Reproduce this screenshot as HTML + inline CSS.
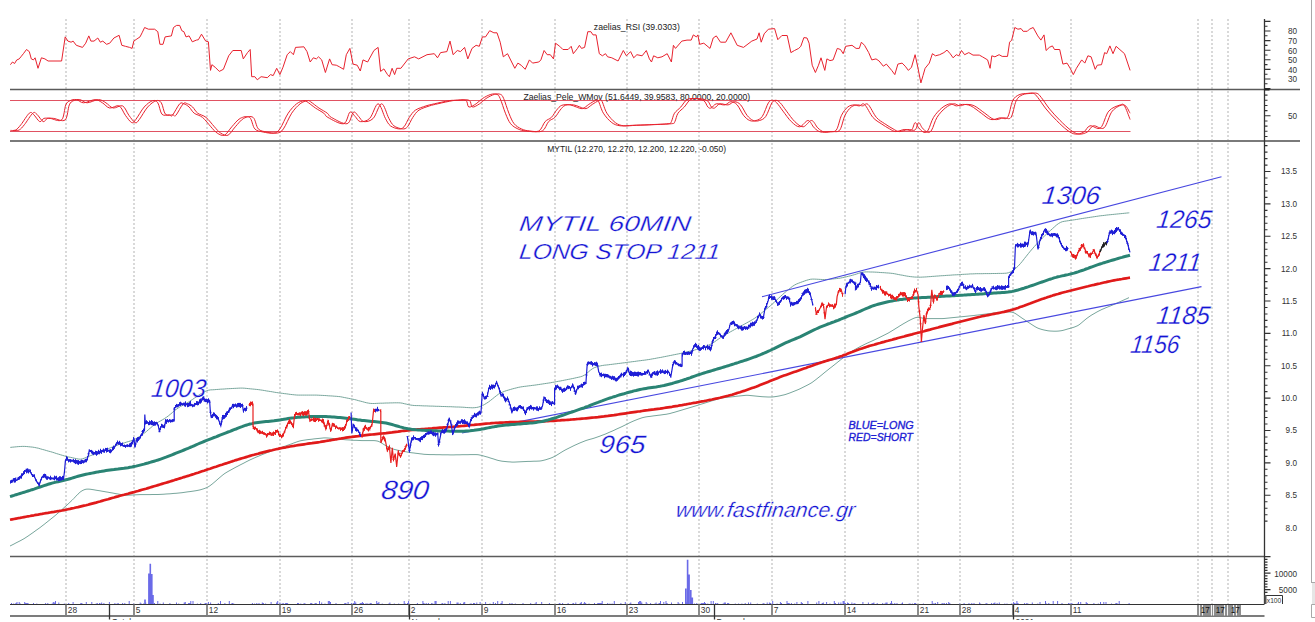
<!DOCTYPE html>
<html><head><meta charset="utf-8"><title>MYTIL chart</title>
<style>html,body{margin:0;padding:0;background:#fff;}svg{display:block;}</style>
</head><body>
<svg width="1315" height="622" viewBox="0 0 1315 622">
<rect width="1315" height="622" fill="#fff"/>
<line x1="66" y1="19" x2="66" y2="604" stroke="#d9d9d9" stroke-width="2" stroke-dasharray="2 2"/>
<line x1="134" y1="19" x2="134" y2="604" stroke="#d9d9d9" stroke-width="2" stroke-dasharray="2 2"/>
<line x1="207" y1="19" x2="207" y2="604" stroke="#d9d9d9" stroke-width="2" stroke-dasharray="2 2"/>
<line x1="280" y1="19" x2="280" y2="604" stroke="#d9d9d9" stroke-width="2" stroke-dasharray="2 2"/>
<line x1="352" y1="19" x2="352" y2="604" stroke="#d9d9d9" stroke-width="2" stroke-dasharray="2 2"/>
<line x1="409" y1="19" x2="409" y2="604" stroke="#d9d9d9" stroke-width="2" stroke-dasharray="2 2"/>
<line x1="482" y1="19" x2="482" y2="604" stroke="#d9d9d9" stroke-width="2" stroke-dasharray="2 2"/>
<line x1="555" y1="19" x2="555" y2="604" stroke="#d9d9d9" stroke-width="2" stroke-dasharray="2 2"/>
<line x1="627" y1="19" x2="627" y2="604" stroke="#d9d9d9" stroke-width="2" stroke-dasharray="2 2"/>
<line x1="699" y1="19" x2="699" y2="604" stroke="#d9d9d9" stroke-width="2" stroke-dasharray="2 2"/>
<line x1="772" y1="19" x2="772" y2="604" stroke="#d9d9d9" stroke-width="2" stroke-dasharray="2 2"/>
<line x1="845" y1="19" x2="845" y2="604" stroke="#d9d9d9" stroke-width="2" stroke-dasharray="2 2"/>
<line x1="918" y1="19" x2="918" y2="604" stroke="#d9d9d9" stroke-width="2" stroke-dasharray="2 2"/>
<line x1="960" y1="19" x2="960" y2="604" stroke="#d9d9d9" stroke-width="2" stroke-dasharray="2 2"/>
<line x1="1013" y1="19" x2="1013" y2="604" stroke="#d9d9d9" stroke-width="2" stroke-dasharray="2 2"/>
<line x1="1071" y1="19" x2="1071" y2="604" stroke="#d9d9d9" stroke-width="2" stroke-dasharray="2 2"/>
<line x1="1198" y1="19" x2="1198" y2="604" stroke="#d9d9d9" stroke-width="2" stroke-dasharray="2 2"/>
<line x1="1212" y1="19" x2="1212" y2="604" stroke="#d9d9d9" stroke-width="2" stroke-dasharray="2 2"/>
<line x1="1228" y1="19" x2="1228" y2="604" stroke="#d9d9d9" stroke-width="2" stroke-dasharray="2 2"/>
<line x1="1311.5" y1="0" x2="1311.5" y2="583" stroke="#a8a8a8" stroke-width="1"/>
<rect x="1312" y="583" width="3" height="21" fill="#e6e6e6"/>
<line x1="1311.5" y1="582.5" x2="1315" y2="582.5" stroke="#a8a8a8"/>
<path d="M1315,604.5 H1311.5 V617.5 H1315" fill="none" stroke="#a8a8a8"/>
<line x1="10" y1="89.5" x2="1300" y2="89.5" stroke="#5a5a5a" stroke-width="1.4"/>
<line x1="10" y1="141" x2="1300" y2="141" stroke="#7a7a7a" stroke-width="2"/>
<line x1="10" y1="556.5" x2="1264.5" y2="556.5" stroke="#5c5c5c" stroke-width="1.5"/>
<line x1="10" y1="604.5" x2="1264.5" y2="604.5" stroke="#333" stroke-width="1.2"/>
<line x1="10" y1="616" x2="1264.5" y2="616" stroke="#7c7c7c" stroke-width="2"/>
<line x1="10" y1="100.5" x2="1130.5" y2="100.5" stroke="#e05262" stroke-width="1"/>
<line x1="10" y1="131.5" x2="1130.5" y2="131.5" stroke="#e05262" stroke-width="1"/>
<line x1="1264.5" y1="19" x2="1264.5" y2="604" stroke="#333" stroke-width="1.3"/>
<path d="M1264.5,21.4h6M1264.5,26.2h3M1264.5,31.0h6M1264.5,35.8h3M1264.5,40.6h6M1264.5,45.4h3M1264.5,50.2h6M1264.5,55.0h3M1264.5,59.8h6M1264.5,64.6h3M1264.5,69.4h6M1264.5,74.2h3M1264.5,79.0h6M1264.5,83.8h3M1264.5,88.6h6M1264.5,95.1h3M1264.5,100.3h3M1264.5,105.5h3M1264.5,110.6h3M1264.5,115.8h6M1264.5,121.0h3M1264.5,126.1h3M1264.5,131.3h3M1264.5,136.5h3M1264.5,145.6h3M1264.5,152.1h3M1264.5,158.6h3M1264.5,165.1h3M1264.5,171.5h6M1264.5,178.0h3M1264.5,184.5h3M1264.5,191.0h3M1264.5,197.4h3M1264.5,203.9h6M1264.5,210.4h3M1264.5,216.8h3M1264.5,223.3h3M1264.5,229.8h3M1264.5,236.3h6M1264.5,242.7h3M1264.5,249.2h3M1264.5,255.7h3M1264.5,262.2h3M1264.5,268.6h6M1264.5,275.1h3M1264.5,281.6h3M1264.5,288.1h3M1264.5,294.5h3M1264.5,301.0h6M1264.5,307.5h3M1264.5,314.0h3M1264.5,320.4h3M1264.5,326.9h3M1264.5,333.4h6M1264.5,339.9h3M1264.5,346.3h3M1264.5,352.8h3M1264.5,359.3h3M1264.5,365.8h6M1264.5,372.2h3M1264.5,378.7h3M1264.5,385.2h3M1264.5,391.6h3M1264.5,398.1h6M1264.5,404.6h3M1264.5,411.1h3M1264.5,417.5h3M1264.5,424.0h3M1264.5,430.5h6M1264.5,437.0h3M1264.5,443.4h3M1264.5,449.9h3M1264.5,456.4h3M1264.5,462.9h6M1264.5,469.3h3M1264.5,475.8h3M1264.5,482.3h3M1264.5,488.8h3M1264.5,495.2h6M1264.5,501.7h3M1264.5,508.2h3M1264.5,514.7h3M1264.5,521.1h3M1264.5,556.6h6M1264.5,559.4h3M1264.5,562.1h3M1264.5,564.9h3M1264.5,567.6h3M1264.5,570.4h3M1264.5,573.1h6M1264.5,575.9h3M1264.5,578.6h3M1264.5,581.4h3M1264.5,584.1h3M1264.5,586.9h3M1264.5,589.6h6M1264.5,592.4h3" stroke="#333" stroke-width="1.1" fill="none"/>
<rect x="1264.5" y="88.5" width="5" height="2" fill="#222"/>
<text x="1297" y="34.3" font-family="Liberation Sans, Arial, sans-serif" font-size="8.2" fill="#333" text-anchor="end">80</text>
<text x="1297" y="43.9" font-family="Liberation Sans, Arial, sans-serif" font-size="8.2" fill="#333" text-anchor="end">70</text>
<text x="1297" y="53.5" font-family="Liberation Sans, Arial, sans-serif" font-size="8.2" fill="#333" text-anchor="end">60</text>
<text x="1297" y="63.1" font-family="Liberation Sans, Arial, sans-serif" font-size="8.2" fill="#333" text-anchor="end">50</text>
<text x="1297" y="72.7" font-family="Liberation Sans, Arial, sans-serif" font-size="8.2" fill="#333" text-anchor="end">40</text>
<text x="1297" y="82.3" font-family="Liberation Sans, Arial, sans-serif" font-size="8.2" fill="#333" text-anchor="end">30</text>
<text x="1297" y="119.1" font-family="Liberation Sans, Arial, sans-serif" font-size="8.2" fill="#333" text-anchor="end">50</text>
<text x="1297" y="174.4" font-family="Liberation Sans, Arial, sans-serif" font-size="8.2" fill="#333" text-anchor="end">13.5</text>
<text x="1297" y="206.8" font-family="Liberation Sans, Arial, sans-serif" font-size="8.2" fill="#333" text-anchor="end">13.0</text>
<text x="1297" y="239.2" font-family="Liberation Sans, Arial, sans-serif" font-size="8.2" fill="#333" text-anchor="end">12.5</text>
<text x="1297" y="271.5" font-family="Liberation Sans, Arial, sans-serif" font-size="8.2" fill="#333" text-anchor="end">12.0</text>
<text x="1297" y="303.9" font-family="Liberation Sans, Arial, sans-serif" font-size="8.2" fill="#333" text-anchor="end">11.5</text>
<text x="1297" y="336.3" font-family="Liberation Sans, Arial, sans-serif" font-size="8.2" fill="#333" text-anchor="end">11.0</text>
<text x="1297" y="368.6" font-family="Liberation Sans, Arial, sans-serif" font-size="8.2" fill="#333" text-anchor="end">10.5</text>
<text x="1297" y="401.0" font-family="Liberation Sans, Arial, sans-serif" font-size="8.2" fill="#333" text-anchor="end">10.0</text>
<text x="1297" y="433.4" font-family="Liberation Sans, Arial, sans-serif" font-size="8.2" fill="#333" text-anchor="end">9.5</text>
<text x="1297" y="465.8" font-family="Liberation Sans, Arial, sans-serif" font-size="8.2" fill="#333" text-anchor="end">9.0</text>
<text x="1297" y="498.1" font-family="Liberation Sans, Arial, sans-serif" font-size="8.2" fill="#333" text-anchor="end">8.5</text>
<text x="1297" y="530.5" font-family="Liberation Sans, Arial, sans-serif" font-size="8.2" fill="#333" text-anchor="end">8.0</text>
<text x="1297" y="576.5" font-family="Liberation Sans, Arial, sans-serif" font-size="8.2" fill="#333" text-anchor="end">10000</text>
<text x="1297" y="592.7" font-family="Liberation Sans, Arial, sans-serif" font-size="8.2" fill="#333" text-anchor="end">5000</text>
<path d="M1264.5,595.5 H1282.5 V604" fill="none" stroke="#333" stroke-width="1"/>
<rect x="1264.5" y="595" width="2" height="9" fill="#555"/>
<text x="1266.8" y="602.6" font-family="Liberation Sans, Arial, sans-serif" font-size="7.2" fill="#333" textLength="14.5" lengthAdjust="spacingAndGlyphs">x100</text>
<text x="593.8" y="30.1" font-family="Liberation Sans, Arial, sans-serif" font-size="8.6" fill="#222" textLength="86" lengthAdjust="spacingAndGlyphs">zaelias_RSI (39.0303)</text>
<text x="523.4" y="100.2" font-family="Liberation Sans, Arial, sans-serif" font-size="8.6" fill="#222" textLength="226.8" lengthAdjust="spacingAndGlyphs">Zaelias_Pele_WMov (51.6449, 39.9583, 80.0000, 20.0000)</text>
<text x="547.2" y="152" font-family="Liberation Sans, Arial, sans-serif" font-size="8.8" fill="#222" textLength="178.9" lengthAdjust="spacingAndGlyphs">MYTIL (12.270, 12.270, 12.200, 12.220, -0.050)</text>
<polyline points="10.4,64.7 12.5,62.0 14.6,63.5 16.7,60.0 19.2,58.9 20.9,56.8 23.4,53.7 26.5,49.5 29.3,51.6 31.3,58.9 33.4,59.9 35.1,57.8 38.0,68.3 41.4,57.8 44.9,58.9 48.1,61.0 61.6,61.0 65.2,36.9 67.9,41.1 71.1,42.2 73.1,41.1 76.3,45.3 82.5,47.4 85.7,43.2 88.8,35.9 90.9,41.1 94.0,41.1 97.8,38.0 100.3,42.2 102.8,41.1 106.6,44.3 109.7,43.2 113.9,38.0 119.1,35.3 121.8,45.3 125.4,46.3 129.6,47.4 132.1,48.4 133.8,41.1 136.9,39.0 140.0,36.9 142.1,32.8 144.6,27.5 148.4,29.2 154.6,29.2 157.8,31.7 159.9,44.3 163.0,44.3 165.1,36.9 171.4,35.9 173.5,27.5 176.6,25.4 179.7,25.4 181.8,30.7 183.9,31.7 186.0,36.9 189.1,35.9 192.3,41.8 196.4,40.1 198.4,39.7 201.5,34.2 205.7,41.1 208.4,41.8 210.5,70.4 211.9,64.7 215.1,67.2 219.3,71.4 223.4,69.3 228.7,55.8 232.8,50.5 241.2,50.5 243.3,58.9 247.5,52.6 250.2,49.5 251.7,76.7 254.8,76.7 257.3,79.8 261.1,76.7 267.3,77.7 270.5,74.6 273.2,75.6 276.7,68.3 279.9,74.6 283.0,67.2 287.2,54.7 290.3,51.6 293.4,54.7 295.5,47.4 303.9,46.8 307.0,51.6 310.2,62.0 313.3,57.8 316.4,58.9 318.5,56.8 321.7,59.9 325.4,72.5 329.6,58.9 332.1,64.7 336.3,65.2 339.4,66.8 343.6,69.3 346.3,54.7 349.9,48.4 353.0,64.1 357.2,65.2 360.3,71.0 363.0,59.9 367.6,62.0 373.9,50.5 378.1,47.4 380.6,71.4 383.9,68.9 387.5,74.6 389.4,76.7 392.1,68.3 394.6,74.6 396.7,68.3 400.9,68.3 408.2,58.9 414.5,56.8 418.7,58.9 427.0,54.7 434.3,53.7 437.5,57.8 440.6,52.6 446.9,51.6 450.0,41.1 453.1,54.7 457.3,50.5 460.5,51.6 464.6,47.4 467.8,58.9 472.0,48.4 476.1,45.3 479.3,46.3 482.4,36.9 485.5,36.9 489.7,30.7 493.9,32.8 497.0,32.8 500.2,42.2 503.3,56.8 507.5,53.7 514.8,68.3 517.9,63.1 521.1,65.2 525.2,69.3 529.4,59.9 532.6,63.1 538.8,62.0 540.9,59.9 544.1,50.5 547.2,54.7 550.3,54.7 553.5,58.9 555.5,43.2 559.7,46.3 562.9,49.5 568.1,49.5 571.2,46.3 573.3,53.7 577.5,48.4 579.4,45.3 581.5,48.4 584.6,47.4 587.8,31.7 590.9,31.7 593.0,34.9 596.1,34.9 599.3,53.7 602.4,55.8 605.5,53.7 607.6,56.8 611.8,57.8 618.1,61.0 623.3,50.5 626.4,55.8 630.6,51.6 633.7,57.8 636.9,54.7 642.1,55.8 646.3,50.5 649.4,58.9 651.5,62.0 653.6,55.8 657.8,57.8 662.0,56.8 667.2,53.7 671.4,62.0 673.4,45.3 675.5,48.4 681.8,41.1 687.0,40.1 691.2,40.1 693.3,34.9 696.4,36.9 697.9,34.9 699.6,44.3 703.8,43.2 710.0,48.4 713.2,38.0 716.3,35.9 720.5,42.2 725.7,42.2 730.9,32.8 737.2,45.3 743.5,47.4 751.8,41.1 757.0,39.0 759.1,32.8 761.2,42.2 764.2,33.8 768.4,29.2 774.6,28.6 777.8,39.7 781.9,35.5 787.2,35.5 790.9,52.6 794.5,50.5 798.7,48.4 800.8,46.3 803.9,37.6 807.0,38.0 809.1,43.2 812.2,65.2 815.4,72.5 818.5,65.2 821.0,57.8 824.8,70.4 826.9,58.9 830.0,60.6 833.1,59.9 837.3,48.4 840.5,49.5 843.2,53.7 845.7,46.3 852.0,45.3 856.1,48.4 859.3,48.4 861.4,42.2 864.5,45.3 868.7,52.6 871.8,59.9 876.0,58.9 879.1,61.0 883.3,66.2 886.4,64.1 891.7,70.4 894.8,74.6 897.9,64.1 902.1,63.1 905.2,66.2 908.4,70.4 911.5,67.2 915.1,54.7 917.8,67.2 920.9,82.9 923.0,75.6 925.1,68.3 929.3,63.1 932.4,53.7 935.5,55.8 939.7,54.7 943.9,52.6 947.0,50.1 950.2,53.7 953.1,57.8 956.3,54.7 958.8,55.8 961.5,50.5 964.6,54.7 968.8,52.6 973.0,55.1 979.3,55.1 982.4,56.8 987.6,59.9 990.1,68.3 991.8,55.8 994.9,56.8 999.1,54.7 1002.2,56.4 1007.5,56.4 1009.6,42.2 1011.7,40.1 1014.8,27.5 1017.9,29.2 1021.1,28.6 1023.1,31.3 1027.3,31.3 1029.4,29.2 1033.2,27.5 1037.8,35.9 1040.9,40.1 1044.0,34.9 1046.1,50.5 1049.3,47.4 1052.4,45.9 1054.5,49.5 1059.7,49.5 1062.9,64.1 1067.0,63.1 1070.2,68.3 1073.3,74.6 1076.4,68.3 1081.7,59.9 1084.8,63.1 1087.9,55.8 1091.1,56.8 1095.2,69.3 1097.3,65.2 1101.5,64.7 1104.6,52.6 1106.7,53.7 1109.9,45.9 1113.0,53.7 1116.1,46.3 1124.5,53.7 1130.1,70.4" fill="none" stroke="#e8222e" stroke-width="1" stroke-linejoin="round"/>
<path d="M10.4,130.4 C11.3,130.3 13.9,130.9 15.7,130.0 C17.4,129.1 18.6,127.5 20.9,124.7 C23.2,121.9 27.2,114.9 29.3,113.2 C31.4,111.5 31.7,112.9 33.4,114.3 C35.1,115.7 38.0,120.9 39.7,121.6 C41.5,122.3 42.1,118.9 43.9,118.4 C45.6,117.9 47.2,118.2 50.2,118.4 C53.2,118.7 59.0,122.2 61.6,119.9 C64.2,117.7 64.4,108.1 65.8,104.9 C67.2,101.7 68.2,101.6 70.0,100.7 C71.8,99.8 74.0,99.2 76.3,99.6 C78.6,99.9 80.5,102.8 83.6,102.8 C86.7,102.8 92.0,99.6 95.1,99.6 C98.2,99.6 100.0,101.4 102.4,102.8 C104.8,104.2 106.9,107.5 109.7,108.0 C112.5,108.5 116.5,104.7 119.1,105.9 C121.7,107.1 123.3,112.5 125.4,115.3 C127.5,118.1 130.0,121.9 131.7,122.6 C133.4,123.3 133.7,122.1 135.8,119.5 C137.9,116.9 141.4,110.1 144.2,107.0 C147.0,103.9 150.3,101.4 152.6,100.7 C154.9,100.0 156.2,100.5 157.8,102.8 C159.4,105.1 160.1,112.3 162.0,114.3 C163.9,116.3 167.6,114.7 169.3,114.9 C171.0,115.1 170.7,117.2 172.4,115.3 C174.1,113.4 177.8,105.7 179.7,103.8 C181.6,101.9 182.3,103.3 183.9,103.8 C185.5,104.3 187.4,105.4 189.1,107.0 C190.8,108.6 192.0,111.5 194.2,113.2 C196.4,114.9 199.7,115.1 202.5,117.4 C205.3,119.7 208.5,124.2 210.9,126.8 C213.3,129.4 214.9,131.7 217.2,133.1 C219.5,134.5 222.1,136.2 224.5,135.2 C226.9,134.1 229.2,129.6 231.8,126.8 C234.4,124.0 237.2,120.0 240.2,118.4 C243.2,116.8 247.2,115.7 249.6,117.4 C252.0,119.2 252.6,126.5 254.8,128.9 C257.1,131.3 260.0,131.3 263.1,132.0 C266.2,132.7 270.8,133.6 273.6,133.1 C276.4,132.6 277.5,132.2 279.9,128.9 C282.3,125.6 285.4,117.4 288.2,113.2 C291.0,109.0 294.0,105.9 296.6,103.8 C299.2,101.7 302.2,101.0 303.9,100.7 C305.6,100.4 305.1,100.5 307.0,101.7 C308.9,102.9 312.6,106.1 315.4,108.0 C318.2,109.9 321.7,111.6 323.8,113.2 C325.9,114.8 324.6,115.7 327.9,117.4 C331.2,119.2 339.9,124.6 343.6,123.7 C347.3,122.8 348.0,113.4 349.9,112.2 C351.8,111.0 353.4,114.8 355.1,116.4 C356.8,118.0 357.9,121.3 360.3,121.6 C362.7,121.9 366.7,121.4 369.7,118.4 C372.7,115.4 375.5,103.8 378.1,103.8 C380.7,103.8 383.3,114.7 385.4,118.4 C387.4,122.1 388.2,124.0 390.4,125.8 C392.6,127.5 396.5,128.7 398.8,128.9 C401.1,129.1 402.2,128.7 404.0,126.8 C405.8,124.9 407.4,120.2 409.3,117.4 C411.2,114.6 412.7,112.0 415.5,110.1 C418.3,108.2 422.9,107.0 426.0,105.9 C429.1,104.9 430.5,104.7 434.3,103.8 C438.1,102.9 445.5,101.3 449.0,100.7 C452.5,100.1 452.4,100.4 455.2,100.3 C458.0,100.2 463.4,99.2 465.7,100.3 C468.0,101.4 467.1,106.4 468.8,107.0 C470.5,107.6 473.8,105.2 476.1,103.8 C478.4,102.4 479.9,100.2 482.4,98.6 C484.8,97.0 488.4,95.1 490.8,94.4 C493.2,93.7 495.4,93.7 497.0,94.4 C498.6,95.1 498.8,95.5 500.2,98.6 C501.6,101.7 503.7,109.0 505.4,113.2 C507.1,117.4 508.5,121.1 510.6,123.7 C512.7,126.3 515.3,127.7 517.9,128.9 C520.5,130.1 522.8,130.7 526.3,131.0 C529.8,131.3 535.7,132.6 538.8,131.0 C541.9,129.4 543.0,123.9 545.1,121.6 C547.2,119.3 549.5,119.3 551.4,117.4 C553.3,115.5 554.9,112.1 556.6,110.1 C558.3,108.1 559.5,106.2 561.8,105.3 C564.1,104.4 567.8,104.6 570.2,104.9 C572.6,105.2 574.2,106.4 576.3,107.0 C578.3,107.6 580.4,109.0 582.5,108.6 C584.6,108.2 586.7,105.7 588.8,104.4 C590.9,103.1 593.5,101.3 595.1,100.7 C596.7,100.1 596.8,98.6 598.2,100.7 C599.6,102.8 601.1,109.6 603.4,113.2 C605.7,116.8 609.0,120.5 611.8,122.6 C614.6,124.7 616.7,125.3 620.2,125.8 C623.7,126.2 627.8,125.5 632.7,125.3 C637.6,125.1 643.5,125.0 649.4,124.7 C655.3,124.4 664.5,124.2 668.2,123.7 C671.9,123.2 670.4,123.3 671.4,121.6 C672.4,119.8 672.9,115.6 674.5,113.2 C676.1,110.8 678.7,109.3 680.8,107.0 C682.9,104.7 684.6,101.0 687.0,99.6 C689.4,98.2 692.6,98.4 695.4,98.6 C698.2,98.8 701.7,99.3 703.8,100.7 C705.9,102.1 706.7,105.8 707.9,107.0 C709.1,108.2 709.7,108.5 711.1,108.0 C712.5,107.5 714.0,104.3 716.3,103.8 C718.5,103.3 722.2,105.2 724.6,104.9 C727.0,104.6 728.8,101.7 730.9,101.7 C733.0,101.7 735.1,102.6 737.2,104.9 C739.3,107.2 741.4,112.7 743.5,115.3 C745.6,117.9 747.6,119.6 749.7,120.5 C751.8,121.4 753.9,121.2 756.0,120.5 C758.1,119.8 760.2,119.4 762.3,116.4 C764.4,113.5 766.7,105.5 768.4,102.8 C770.1,100.1 771.1,100.3 772.5,100.3 C773.9,100.3 775.0,101.0 776.7,102.8 C778.5,104.6 780.6,108.0 783.0,111.1 C785.4,114.2 788.5,119.0 791.3,121.6 C794.1,124.2 796.9,127.0 799.7,126.8 C802.5,126.6 805.7,120.3 808.1,120.5 C810.5,120.7 812.2,126.0 814.3,127.9 C816.4,129.8 818.1,131.4 820.6,132.0 C823.1,132.6 826.4,131.9 829.0,131.6 C831.6,131.3 834.2,132.7 836.3,130.0 C838.4,127.3 839.6,119.1 841.5,115.3 C843.4,111.5 845.7,108.7 847.8,107.0 C849.9,105.3 852.1,105.1 854.0,104.9 C855.9,104.7 857.5,106.0 859.3,105.9 C861.0,105.8 862.2,102.5 864.5,104.4 C866.8,106.3 870.1,114.2 872.9,117.4 C875.7,120.6 878.4,121.8 881.2,123.7 C884.0,125.6 887.2,127.6 889.6,128.9 C892.0,130.2 893.4,131.5 895.8,131.6 C898.2,131.7 901.6,129.8 904.2,129.5 C906.8,129.2 909.7,131.2 911.5,130.0 C913.3,128.8 913.9,122.9 915.1,122.6 C916.3,122.2 917.3,126.3 918.8,127.9 C920.3,129.5 922.5,132.1 924.1,132.4 C925.7,132.8 926.6,132.5 928.2,130.0 C929.8,127.5 931.2,121.1 933.5,117.4 C935.8,113.7 939.0,110.3 941.8,108.0 C944.6,105.7 947.8,104.1 950.2,103.8 C952.6,103.5 954.2,105.8 956.3,105.9 C958.3,106.0 960.1,104.4 962.5,104.4 C964.9,104.4 967.8,104.4 970.9,105.9 C974.0,107.4 978.0,110.9 981.3,113.2 C984.6,115.5 987.6,118.7 990.8,119.5 C993.9,120.3 997.4,118.1 1000.2,117.8 C1003.0,117.5 1005.4,120.2 1007.5,117.4 C1009.6,114.6 1010.8,104.5 1012.7,100.7 C1014.6,96.9 1016.6,96.0 1019.0,94.8 C1021.4,93.6 1024.9,93.6 1027.3,93.4 C1029.7,93.2 1031.8,92.7 1033.6,93.4 C1035.3,94.1 1035.7,94.9 1037.8,97.5 C1039.9,100.1 1043.0,105.2 1046.1,109.0 C1049.2,112.8 1053.1,117.0 1056.6,120.5 C1060.1,124.0 1063.9,127.7 1067.0,130.0 C1070.1,132.3 1072.6,133.8 1075.4,134.1 C1078.2,134.4 1081.4,133.4 1083.8,132.0 C1086.2,130.6 1087.2,126.5 1090.0,125.8 C1092.8,125.1 1097.4,130.3 1100.5,127.9 C1103.6,125.5 1105.5,114.9 1108.8,111.1 C1112.1,107.3 1117.7,105.8 1120.3,104.9 C1122.9,104.0 1122.9,103.5 1124.5,105.9 C1126.1,108.3 1129.2,117.2 1130.1,119.5" fill="none" stroke="#e8222e" stroke-width="1"/>
<path d="M13.9,130.4 C14.8,130.3 17.4,130.9 19.2,130.0 C20.9,129.1 22.1,127.5 24.4,124.7 C26.7,121.9 30.7,114.9 32.8,113.2 C34.9,111.5 35.2,112.9 36.9,114.3 C38.6,115.7 41.5,120.9 43.2,121.6 C45.0,122.3 45.6,118.9 47.4,118.4 C49.1,117.9 50.8,118.2 53.7,118.4 C56.7,118.7 62.5,122.2 65.1,119.9 C67.7,117.7 67.9,108.1 69.3,104.9 C70.7,101.7 71.8,101.6 73.5,100.7 C75.2,99.8 77.5,99.2 79.8,99.6 C82.1,99.9 84.0,102.8 87.1,102.8 C90.2,102.8 95.5,99.6 98.6,99.6 C101.7,99.6 103.5,101.4 105.9,102.8 C108.3,104.2 110.4,107.5 113.2,108.0 C116.0,108.5 120.0,104.7 122.6,105.9 C125.2,107.1 126.8,112.5 128.9,115.3 C131.0,118.1 133.5,121.9 135.2,122.6 C136.9,123.3 137.2,122.1 139.3,119.5 C141.4,116.9 144.9,110.1 147.7,107.0 C150.5,103.9 153.8,101.4 156.1,100.7 C158.4,100.0 159.7,100.5 161.3,102.8 C162.9,105.1 163.6,112.3 165.5,114.3 C167.4,116.3 171.1,114.7 172.8,114.9 C174.5,115.1 174.2,117.2 175.9,115.3 C177.6,113.4 181.3,105.7 183.2,103.8 C185.1,101.9 185.8,103.3 187.4,103.8 C189.0,104.3 190.9,105.4 192.6,107.0 C194.3,108.6 195.5,111.5 197.7,113.2 C199.9,114.9 203.2,115.1 206.0,117.4 C208.8,119.7 212.0,124.2 214.4,126.8 C216.8,129.4 218.4,131.7 220.7,133.1 C223.0,134.5 225.6,136.2 228.0,135.2 C230.4,134.1 232.7,129.6 235.3,126.8 C237.9,124.0 240.7,120.0 243.7,118.4 C246.7,116.8 250.7,115.7 253.1,117.4 C255.5,119.2 256.1,126.5 258.3,128.9 C260.6,131.3 263.5,131.3 266.6,132.0 C269.7,132.7 274.3,133.6 277.1,133.1 C279.9,132.6 281.0,132.2 283.4,128.9 C285.8,125.6 288.9,117.4 291.7,113.2 C294.5,109.0 297.5,105.9 300.1,103.8 C302.7,101.7 305.7,101.0 307.4,100.7 C309.1,100.4 308.6,100.5 310.5,101.7 C312.4,102.9 316.1,106.1 318.9,108.0 C321.7,109.9 325.2,111.6 327.3,113.2 C329.4,114.8 328.1,115.7 331.4,117.4 C334.7,119.2 343.4,124.6 347.1,123.7 C350.8,122.8 351.5,113.4 353.4,112.2 C355.3,111.0 356.9,114.8 358.6,116.4 C360.3,118.0 361.4,121.3 363.8,121.6 C366.2,121.9 370.2,121.4 373.2,118.4 C376.2,115.4 379.0,103.8 381.6,103.8 C384.2,103.8 386.8,114.7 388.9,118.4 C390.9,122.1 391.7,124.0 393.9,125.8 C396.1,127.5 400.0,128.7 402.3,128.9 C404.6,129.1 405.8,128.7 407.5,126.8 C409.2,124.9 410.9,120.2 412.8,117.4 C414.7,114.6 416.2,112.0 419.0,110.1 C421.8,108.2 426.4,107.0 429.5,105.9 C432.6,104.9 434.0,104.7 437.8,103.8 C441.6,102.9 449.0,101.3 452.5,100.7 C456.0,100.1 455.9,100.4 458.7,100.3 C461.5,100.2 466.9,99.2 469.2,100.3 C471.5,101.4 470.6,106.4 472.3,107.0 C474.0,107.6 477.3,105.2 479.6,103.8 C481.9,102.4 483.4,100.2 485.9,98.6 C488.3,97.0 491.9,95.1 494.3,94.4 C496.7,93.7 498.9,93.7 500.5,94.4 C502.1,95.1 502.3,95.5 503.7,98.6 C505.1,101.7 507.2,109.0 508.9,113.2 C510.6,117.4 512.0,121.1 514.1,123.7 C516.2,126.3 518.8,127.7 521.4,128.9 C524.0,130.1 526.3,130.7 529.8,131.0 C533.3,131.3 539.2,132.6 542.3,131.0 C545.4,129.4 546.5,123.9 548.6,121.6 C550.7,119.3 553.0,119.3 554.9,117.4 C556.8,115.5 558.4,112.1 560.1,110.1 C561.8,108.1 563.0,106.2 565.3,105.3 C567.6,104.4 571.3,104.6 573.7,104.9 C576.1,105.2 577.8,106.4 579.8,107.0 C581.8,107.6 583.9,109.0 586.0,108.6 C588.1,108.2 590.2,105.7 592.3,104.4 C594.4,103.1 597.0,101.3 598.6,100.7 C600.2,100.1 600.3,98.6 601.7,100.7 C603.1,102.8 604.6,109.6 606.9,113.2 C609.2,116.8 612.5,120.5 615.3,122.6 C618.1,124.7 620.2,125.3 623.7,125.8 C627.2,126.2 631.3,125.5 636.2,125.3 C641.1,125.1 647.0,125.0 652.9,124.7 C658.8,124.4 668.0,124.2 671.7,123.7 C675.4,123.2 673.9,123.3 674.9,121.6 C675.9,119.8 676.4,115.6 678.0,113.2 C679.6,110.8 682.2,109.3 684.3,107.0 C686.4,104.7 688.1,101.0 690.5,99.6 C692.9,98.2 696.1,98.4 698.9,98.6 C701.7,98.8 705.2,99.3 707.3,100.7 C709.4,102.1 710.2,105.8 711.4,107.0 C712.6,108.2 713.2,108.5 714.6,108.0 C716.0,107.5 717.5,104.3 719.8,103.8 C722.0,103.3 725.7,105.2 728.1,104.9 C730.5,104.6 732.3,101.7 734.4,101.7 C736.5,101.7 738.6,102.6 740.7,104.9 C742.8,107.2 744.9,112.7 747.0,115.3 C749.1,117.9 751.1,119.6 753.2,120.5 C755.3,121.4 757.4,121.2 759.5,120.5 C761.6,119.8 763.7,119.4 765.8,116.4 C767.9,113.5 770.2,105.5 771.9,102.8 C773.6,100.1 774.6,100.3 776.0,100.3 C777.4,100.3 778.5,101.0 780.2,102.8 C782.0,104.6 784.1,108.0 786.5,111.1 C788.9,114.2 792.0,119.0 794.8,121.6 C797.6,124.2 800.4,127.0 803.2,126.8 C806.0,126.6 809.2,120.3 811.6,120.5 C814.0,120.7 815.7,126.0 817.8,127.9 C819.9,129.8 821.6,131.4 824.1,132.0 C826.6,132.6 829.9,131.9 832.5,131.6 C835.1,131.3 837.7,132.7 839.8,130.0 C841.9,127.3 843.1,119.1 845.0,115.3 C846.9,111.5 849.2,108.7 851.3,107.0 C853.4,105.3 855.6,105.1 857.5,104.9 C859.4,104.7 861.0,106.0 862.8,105.9 C864.5,105.8 865.7,102.5 868.0,104.4 C870.3,106.3 873.6,114.2 876.4,117.4 C879.2,120.6 881.9,121.8 884.7,123.7 C887.5,125.6 890.7,127.6 893.1,128.9 C895.5,130.2 896.9,131.5 899.3,131.6 C901.7,131.7 905.1,129.8 907.7,129.5 C910.3,129.2 913.2,131.2 915.0,130.0 C916.8,128.8 917.4,122.9 918.6,122.6 C919.8,122.2 920.8,126.3 922.3,127.9 C923.8,129.5 926.0,132.1 927.6,132.4 C929.2,132.8 930.1,132.5 931.7,130.0 C933.3,127.5 934.7,121.1 937.0,117.4 C939.3,113.7 942.5,110.3 945.3,108.0 C948.1,105.7 951.3,104.1 953.7,103.8 C956.1,103.5 957.8,105.8 959.8,105.9 C961.8,106.0 963.6,104.4 966.0,104.4 C968.4,104.4 971.3,104.4 974.4,105.9 C977.5,107.4 981.5,110.9 984.8,113.2 C988.1,115.5 991.1,118.7 994.3,119.5 C997.4,120.3 1000.9,118.1 1003.7,117.8 C1006.5,117.5 1008.9,120.2 1011.0,117.4 C1013.1,114.6 1014.3,104.5 1016.2,100.7 C1018.1,96.9 1020.1,96.0 1022.5,94.8 C1024.9,93.6 1028.4,93.6 1030.8,93.4 C1033.2,93.2 1035.3,92.7 1037.1,93.4 C1038.8,94.1 1039.2,94.9 1041.3,97.5 C1043.4,100.1 1046.5,105.2 1049.6,109.0 C1052.7,112.8 1056.6,117.0 1060.1,120.5 C1063.6,124.0 1067.4,127.7 1070.5,130.0 C1073.6,132.3 1076.1,133.8 1078.9,134.1 C1081.7,134.4 1084.9,133.4 1087.3,132.0 C1089.7,130.6 1090.7,126.5 1093.5,125.8 C1096.3,125.1 1100.9,130.3 1104.0,127.9 C1107.1,125.5 1109.0,114.9 1112.3,111.1 C1115.6,107.3 1120.8,104.6 1123.8,104.9 C1126.8,105.2 1129.0,111.8 1130.1,113.2" fill="none" stroke="#e8222e" stroke-width="1"/>
<polyline points="10.3,447.4 12.3,447.2 14.3,447.0 16.3,446.8 18.3,446.6 20.3,446.5 22.3,446.4 24.3,446.4 26.3,446.5 28.3,446.7 30.3,446.9 32.3,447.1 34.3,447.4 36.3,447.8 38.3,448.2 40.3,448.8 42.3,449.4 44.3,449.9 46.3,450.5 48.3,451.1 50.3,451.6 52.3,452.2 54.3,452.8 56.3,453.5 58.3,454.1 60.3,454.7 62.3,455.3 64.3,455.9 66.3,456.4 68.3,456.9 70.3,457.3 72.3,457.7 74.3,458.2 76.3,458.6 78.3,459.0 80.3,459.2 82.3,458.9 84.3,458.2 86.3,457.4 88.3,456.5 90.3,455.7 92.3,455.0 94.3,454.3 96.3,453.7 98.3,453.0 100.3,452.2 102.3,451.3 104.3,450.5 106.3,449.6 108.3,448.7 110.3,447.8 112.3,447.0 114.3,446.2 116.3,445.5 118.3,444.8 120.3,444.2 122.3,443.5 124.3,442.9 126.3,442.2 128.3,441.6 130.3,441.0 132.3,440.4 134.3,439.6 136.3,438.5 138.3,437.3 140.3,436.0 142.3,434.6 144.3,433.1 146.3,431.6 148.3,429.8 150.3,428.1 152.3,426.4 154.3,424.8 156.3,423.3 158.3,422.1 160.3,421.0 162.3,419.9 164.3,418.7 166.3,417.4 168.3,415.9 170.3,414.3 172.3,412.6 174.3,410.9 176.3,409.3 178.3,407.9 180.3,406.6 182.3,405.5 184.3,404.4 186.3,403.3 188.3,402.2 190.3,400.9 192.3,399.6 194.3,398.2 196.3,396.9 198.3,395.5 200.3,394.2 202.3,393.0 204.3,391.8 206.3,390.9 208.3,390.3 210.3,389.9 212.3,389.8 214.3,389.7 216.3,389.5 218.3,389.4 220.3,389.2 222.3,389.1 224.3,389.0 226.3,388.8 228.3,388.7 230.3,388.6 232.3,388.5 234.3,388.4 236.3,388.3 238.3,388.2 240.3,388.1 242.3,388.1 244.3,388.2 246.3,388.4 248.3,388.6 250.3,388.8 252.3,389.0 254.3,389.2 256.3,389.4 258.3,389.6 260.3,389.9 262.3,390.2 264.3,390.5 266.3,390.9 268.3,391.2 270.3,391.5 272.3,391.8 274.3,392.2 276.3,392.5 278.3,392.8 280.3,393.1 282.3,393.3 284.3,393.6 286.3,393.8 288.3,394.1 290.3,394.4 292.3,394.6 294.3,394.8 296.3,395.0 298.3,395.1 300.3,395.1 302.3,395.1 304.3,395.1 306.3,395.1 308.3,395.1 310.3,395.1 312.3,395.1 314.3,395.1 316.3,395.1 318.3,395.2 320.3,395.3 322.3,395.4 324.3,395.5 326.3,395.6 328.3,395.8 330.3,395.9 332.3,396.0 334.3,396.2 336.3,396.3 338.3,396.5 340.3,396.7 342.3,397.1 344.3,397.5 346.3,397.9 348.3,398.3 350.3,398.7 352.3,399.1 354.3,399.5 356.3,400.0 358.3,400.6 360.3,401.1 362.3,401.6 364.3,402.2 366.3,402.7 368.3,403.1 370.3,403.4 372.3,403.5 374.3,403.5 376.3,403.4 378.3,403.3 380.3,403.2 382.3,403.2 384.3,403.1 386.3,403.0 388.3,403.0 390.3,402.9 392.3,402.9 394.3,402.8 396.3,402.8 398.3,402.8 400.3,402.9 402.3,403.2 404.3,403.7 406.3,404.1 408.3,404.6 410.3,405.0 412.3,405.3 414.3,405.5 416.3,405.6 418.3,405.6 420.3,405.7 422.3,405.8 424.3,405.9 426.3,405.9 428.3,406.0 430.3,406.1 432.3,406.1 434.3,406.2 436.3,406.3 438.3,406.3 440.3,406.4 442.3,406.5 444.3,406.5 446.3,406.6 448.3,406.7 450.3,406.7 452.3,406.8 454.3,406.9 456.3,407.0 458.3,407.0 460.3,407.1 462.3,407.2 464.3,407.3 466.3,407.5 468.3,407.6 470.3,407.7 472.3,407.8 474.3,407.7 476.3,407.5 478.3,407.1 480.3,406.5 482.3,405.7 484.3,404.6 486.3,403.4 488.3,402.1 490.3,400.6 492.3,399.0 494.3,397.4 496.3,395.8 498.3,394.3 500.3,393.1 502.3,392.2 504.3,391.4 506.3,390.7 508.3,390.1 510.3,389.5 512.3,388.9 514.3,388.4 516.3,387.9 518.3,387.4 520.3,387.0 522.3,386.7 524.3,386.4 526.3,386.2 528.3,385.9 530.3,385.7 532.3,385.4 534.3,385.2 536.3,384.9 538.3,384.6 540.3,384.3 542.3,384.0 544.3,383.7 546.3,383.4 548.3,383.1 550.3,382.8 552.3,382.4 554.3,382.1 556.3,381.7 558.3,381.3 560.3,381.0 562.3,380.6 564.3,380.2 566.3,379.8 568.3,379.4 570.3,379.0 572.3,378.6 574.3,378.2 576.3,377.7 578.3,377.3 580.3,376.8 582.3,376.2 584.3,375.2 586.3,373.8 588.3,372.0 590.3,370.3 592.3,368.8 594.3,367.7 596.3,367.0 598.3,366.4 600.3,365.9 602.3,365.5 604.3,365.2 606.3,365.0 608.3,364.8 610.3,364.5 612.3,364.3 614.3,364.0 616.3,363.8 618.3,363.5 620.3,363.3 622.3,363.0 624.3,362.8 626.3,362.5 628.3,362.2 630.3,362.0 632.3,361.7 634.3,361.5 636.3,361.2 638.3,360.9 640.3,360.7 642.3,360.4 644.3,360.2 646.3,359.9 648.3,359.6 650.3,359.3 652.3,358.9 654.3,358.6 656.3,358.2 658.3,357.8 660.3,357.5 662.3,357.1 664.3,356.7 666.3,356.3 668.3,355.9 670.3,355.5 672.3,355.1 674.3,354.7 676.3,354.3 678.3,353.9 680.3,353.5 682.3,353.0 684.3,352.5 686.3,352.1 688.3,351.6 690.3,351.1 692.3,350.6 694.3,350.1 696.3,349.5 698.3,348.9 700.3,348.3 702.3,347.6 704.3,346.8 706.3,346.1 708.3,345.3 710.3,344.4 712.3,343.3 714.3,342.0 716.3,340.6 718.3,339.2 720.3,337.8 722.3,336.5 724.3,335.2 726.3,334.1 728.3,333.0 730.3,331.9 732.3,330.8 734.3,329.7 736.3,328.6 738.3,327.5 740.3,326.4 742.3,325.3 744.3,324.2 746.3,323.1 748.3,322.0 750.3,320.9 752.3,319.7 754.3,318.5 756.3,317.1 758.3,315.5 760.3,314.0 762.3,312.4 764.3,310.7 766.3,309.1 768.3,307.5 770.3,305.8 772.3,304.1 774.3,302.2 776.3,300.4 778.3,298.5 780.3,296.6 782.3,294.8 784.3,293.0 786.3,291.3 788.3,289.7 790.3,288.1 792.3,286.5 794.3,285.2 796.3,284.1 798.3,283.3 800.3,282.5 802.3,281.8 804.3,281.1 806.3,280.4 808.3,279.8 810.3,279.3 812.3,279.1 814.3,279.1 816.3,279.2 818.3,279.3 820.3,279.4 822.3,279.5 824.3,279.6 826.3,279.5 828.3,279.4 830.3,279.2 832.3,279.0 834.3,278.8 836.3,278.6 838.3,278.4 840.3,278.1 842.3,277.7 844.3,277.3 846.3,276.8 848.3,276.3 850.3,275.8 852.3,275.3 854.3,274.7 856.3,274.1 858.3,273.4 860.3,272.8 862.3,272.3 864.3,272.0 866.3,271.9 868.3,271.9 870.3,272.0 872.3,272.0 874.3,272.1 876.3,272.2 878.3,272.3 880.3,272.5 882.3,272.6 884.3,272.7 886.3,272.9 888.3,273.0 890.3,273.2 892.3,273.4 894.3,273.7 896.3,274.1 898.3,274.5 900.3,274.9 902.3,275.2 904.3,275.6 906.3,276.0 908.3,276.3 910.3,276.6 912.3,276.8 914.3,277.0 916.3,277.1 918.3,277.2 920.3,277.2 922.3,277.1 924.3,277.0 926.3,276.9 928.3,276.7 930.3,276.6 932.3,276.4 934.3,276.3 936.3,276.1 938.3,276.0 940.3,275.8 942.3,275.7 944.3,275.6 946.3,275.4 948.3,275.3 950.3,275.2 952.3,275.0 954.3,274.9 956.3,274.8 958.3,274.7 960.3,274.6 962.3,274.4 964.3,274.3 966.3,274.2 968.3,274.1 970.3,273.9 972.3,273.9 974.3,273.8 976.3,273.7 978.3,273.7 980.3,273.7 982.3,273.7 984.3,273.6 986.3,273.6 988.3,273.6 990.3,273.6 992.3,273.5 994.3,273.5 996.3,273.5 998.3,273.4 1000.3,273.4 1002.3,273.4 1004.3,273.3 1006.3,273.2 1008.3,272.8 1010.3,272.0 1012.3,270.9 1014.3,269.5 1016.3,267.8 1018.3,265.9 1020.3,263.7 1022.3,261.3 1024.3,258.7 1026.3,256.2 1028.3,253.7 1030.3,251.2 1032.3,248.9 1034.3,246.6 1036.3,244.4 1038.3,242.2 1040.3,240.1 1042.3,238.1 1044.3,236.2 1046.3,234.3 1048.3,232.4 1050.3,230.6 1052.3,228.8 1054.3,227.0 1056.3,225.2 1058.3,223.7 1060.3,222.5 1062.3,221.7 1064.3,221.3 1066.3,221.0 1068.3,220.7 1070.3,220.4 1072.3,220.1 1074.3,219.8 1076.3,219.5 1078.3,219.2 1080.3,218.8 1082.3,218.5 1084.3,218.2 1086.3,217.9 1088.3,217.6 1090.3,217.3 1092.3,217.0 1094.3,216.7 1096.3,216.4 1098.3,216.1 1100.3,215.8 1102.3,215.6 1104.3,215.4 1106.3,215.1 1108.3,214.9 1110.3,214.7 1112.3,214.5 1114.3,214.3 1116.3,214.1 1118.3,213.9 1120.3,213.7 1122.3,213.5 1124.3,213.3 1126.3,213.1 1128.3,212.9 1129.3,212.8" fill="none" stroke="#78a69c" stroke-width="1"/>
<polyline points="10.0,546.0 12.0,545.0 14.0,544.0 16.0,542.9 18.0,541.9 20.0,540.9 22.0,539.8 24.0,538.7 26.0,537.4 28.0,536.1 30.0,534.7 32.0,533.3 34.0,531.9 36.0,530.4 38.0,529.0 40.0,527.6 42.0,526.0 44.0,524.5 46.0,522.9 48.0,521.3 50.0,519.7 52.0,518.1 54.0,516.5 56.0,514.8 58.0,513.1 60.0,511.3 62.0,509.5 64.0,507.7 66.0,505.9 68.0,504.1 70.0,502.2 72.0,500.3 74.0,498.3 76.0,496.1 78.0,494.1 80.0,492.2 82.0,490.8 84.0,489.8 86.0,489.2 88.0,489.1 90.0,489.2 92.0,489.5 94.0,489.8 96.0,490.2 98.0,490.5 100.0,490.8 102.0,491.2 104.0,491.5 106.0,491.9 108.0,492.2 110.0,492.6 112.0,492.9 114.0,493.3 116.0,493.7 118.0,494.0 120.0,494.4 122.0,494.7 124.0,495.0 126.0,495.2 128.0,495.2 130.0,495.1 132.0,495.0 134.0,494.9 136.0,494.8 138.0,494.7 140.0,494.6 142.0,494.6 144.0,494.6 146.0,494.6 148.0,494.6 150.0,494.6 152.0,494.5 154.0,494.5 156.0,494.5 158.0,494.5 160.0,494.4 162.0,494.3 164.0,494.2 166.0,494.0 168.0,493.9 170.0,493.8 172.0,493.6 174.0,493.4 176.0,493.3 178.0,493.1 180.0,492.9 182.0,492.7 184.0,492.4 186.0,492.1 188.0,491.8 190.0,491.6 192.0,491.3 194.0,491.0 196.0,490.7 198.0,490.3 200.0,489.9 202.0,489.3 204.0,488.7 206.0,487.9 208.0,487.0 210.0,485.7 212.0,484.2 214.0,482.5 216.0,480.8 218.0,479.0 220.0,477.3 222.0,475.6 224.0,474.0 226.0,472.7 228.0,471.5 230.0,470.4 232.0,469.3 234.0,468.2 236.0,467.1 238.0,466.1 240.0,465.0 242.0,464.0 244.0,463.0 246.0,461.9 248.0,460.9 250.0,459.9 252.0,459.0 254.0,458.1 256.0,457.2 258.0,456.4 260.0,455.5 262.0,454.7 264.0,453.9 266.0,453.1 268.0,452.3 270.0,451.6 272.0,450.8 274.0,450.1 276.0,449.4 278.0,448.6 280.0,447.9 282.0,447.2 284.0,446.5 286.0,445.8 288.0,445.1 290.0,444.4 292.0,443.7 294.0,442.9 296.0,442.2 298.0,441.5 300.0,440.9 302.0,440.5 304.0,440.2 306.0,439.9 308.0,439.6 310.0,439.4 312.0,439.2 314.0,438.9 316.0,438.7 318.0,438.5 320.0,438.3 322.0,438.1 324.0,437.9 326.0,437.9 328.0,438.0 330.0,438.2 332.0,438.4 334.0,438.6 336.0,438.8 338.0,439.0 340.0,439.2 342.0,439.4 344.0,439.6 346.0,439.8 348.0,439.9 350.0,440.0 352.0,440.2 354.0,440.3 356.0,440.3 358.0,440.4 360.0,440.5 362.0,440.6 364.0,440.6 366.0,440.6 368.0,440.6 370.0,440.6 372.0,440.6 374.0,440.6 376.0,440.8 378.0,441.2 380.0,442.1 382.0,443.3 384.0,444.6 386.0,445.7 388.0,446.7 390.0,447.7 392.0,448.6 394.0,449.3 396.0,449.8 398.0,450.3 400.0,450.7 402.0,451.1 404.0,451.5 406.0,451.8 408.0,452.2 410.0,452.5 412.0,452.8 414.0,453.0 416.0,453.3 418.0,453.5 420.0,453.8 422.0,454.0 424.0,454.3 426.0,454.4 428.0,454.5 430.0,454.6 432.0,454.6 434.0,454.6 436.0,454.7 438.0,454.7 440.0,454.7 442.0,454.8 444.0,454.8 446.0,454.8 448.0,454.8 450.0,454.9 452.0,454.9 454.0,454.9 456.0,454.8 458.0,454.8 460.0,454.8 462.0,454.7 464.0,454.7 466.0,454.7 468.0,454.7 470.0,454.6 472.0,454.6 474.0,454.6 476.0,454.6 478.0,454.7 480.0,455.1 482.0,455.5 484.0,456.1 486.0,456.7 488.0,457.2 490.0,457.9 492.0,458.5 494.0,459.1 496.0,459.8 498.0,460.4 500.0,460.8 502.0,461.2 504.0,461.4 506.0,461.6 508.0,461.8 510.0,461.9 512.0,462.1 514.0,462.1 516.0,462.0 518.0,461.9 520.0,461.8 522.0,461.7 524.0,461.6 526.0,461.5 528.0,461.4 530.0,461.4 532.0,461.3 534.0,461.2 536.0,461.2 538.0,461.1 540.0,461.0 542.0,460.7 544.0,460.2 546.0,459.7 548.0,459.0 550.0,458.4 552.0,457.6 554.0,456.7 556.0,455.6 558.0,454.4 560.0,453.1 562.0,451.9 564.0,450.7 566.0,449.6 568.0,448.6 570.0,447.6 572.0,446.6 574.0,445.6 576.0,444.7 578.0,443.8 580.0,442.9 582.0,442.1 584.0,441.3 586.0,440.5 588.0,439.9 590.0,439.3 592.0,438.8 594.0,438.2 596.0,437.5 598.0,436.8 600.0,436.1 602.0,435.3 604.0,434.6 606.0,433.8 608.0,432.9 610.0,432.0 612.0,431.2 614.0,430.3 616.0,429.3 618.0,428.4 620.0,427.5 622.0,426.6 624.0,425.6 626.0,424.6 628.0,423.6 630.0,422.6 632.0,421.7 634.0,420.8 636.0,420.0 638.0,419.2 640.0,418.5 642.0,417.8 644.0,417.3 646.0,416.9 648.0,416.6 650.0,416.4 652.0,416.1 654.0,415.8 656.0,415.6 658.0,415.3 660.0,415.1 662.0,414.8 664.0,414.5 666.0,414.3 668.0,413.9 670.0,413.5 672.0,412.9 674.0,412.4 676.0,411.8 678.0,411.2 680.0,410.6 682.0,410.0 684.0,409.4 686.0,408.8 688.0,408.2 690.0,407.6 692.0,407.0 694.0,406.4 696.0,405.8 698.0,405.2 700.0,404.5 702.0,403.9 704.0,403.3 706.0,402.7 708.0,402.1 710.0,401.4 712.0,400.8 714.0,400.2 716.0,399.6 718.0,399.0 720.0,398.4 722.0,398.0 724.0,397.7 726.0,397.4 728.0,397.2 730.0,397.0 732.0,396.8 734.0,396.6 736.0,396.3 738.0,396.1 740.0,395.9 742.0,395.7 744.0,395.5 746.0,395.3 748.0,395.3 750.0,395.5 752.0,395.7 754.0,395.9 756.0,396.1 758.0,396.3 760.0,396.5 762.0,396.7 764.0,396.8 766.0,396.9 768.0,397.0 770.0,397.0 772.0,397.0 774.0,396.8 776.0,396.5 778.0,396.2 780.0,395.8 782.0,395.3 784.0,394.9 786.0,394.3 788.0,393.6 790.0,392.9 792.0,392.1 794.0,391.3 796.0,390.5 798.0,389.7 800.0,388.8 802.0,387.8 804.0,386.8 806.0,385.8 808.0,384.8 810.0,383.7 812.0,382.5 814.0,381.0 816.0,379.5 818.0,377.9 820.0,376.3 822.0,374.7 824.0,373.0 826.0,371.4 828.0,369.8 830.0,368.2 832.0,366.7 834.0,365.1 836.0,363.5 838.0,361.9 840.0,360.3 842.0,358.7 844.0,357.1 846.0,355.5 848.0,353.9 850.0,352.5 852.0,351.2 854.0,350.1 856.0,348.9 858.0,347.8 860.0,346.7 862.0,345.7 864.0,344.7 866.0,343.7 868.0,342.8 870.0,341.9 872.0,341.0 874.0,340.1 876.0,339.2 878.0,338.2 880.0,337.2 882.0,336.2 884.0,335.2 886.0,334.2 888.0,333.2 890.0,332.0 892.0,330.8 894.0,329.6 896.0,328.3 898.0,327.1 900.0,325.8 902.0,324.6 904.0,323.4 906.0,322.3 908.0,321.1 910.0,320.1 912.0,319.1 914.0,318.2 916.0,317.5 918.0,317.3 920.0,317.6 922.0,318.0 924.0,318.4 926.0,318.5 928.0,318.6 930.0,318.6 932.0,318.6 934.0,318.6 936.0,318.6 938.0,318.6 940.0,318.6 942.0,318.6 944.0,318.5 946.0,318.3 948.0,318.1 950.0,317.9 952.0,317.7 954.0,317.5 956.0,317.3 958.0,317.1 960.0,316.9 962.0,316.7 964.0,316.5 966.0,316.3 968.0,316.1 970.0,315.9 972.0,315.7 974.0,315.5 976.0,315.2 978.0,315.0 980.0,314.8 982.0,314.5 984.0,314.3 986.0,314.0 988.0,313.8 990.0,313.5 992.0,313.3 994.0,313.0 996.0,312.8 998.0,312.5 1000.0,312.3 1002.0,312.2 1004.0,312.0 1006.0,312.0 1008.0,311.9 1010.0,312.0 1012.0,312.2 1014.0,312.8 1016.0,313.9 1018.0,315.3 1020.0,316.7 1022.0,318.1 1024.0,319.4 1026.0,320.8 1028.0,322.1 1030.0,323.4 1032.0,324.7 1034.0,326.0 1036.0,327.2 1038.0,328.2 1040.0,328.9 1042.0,329.5 1044.0,330.0 1046.0,330.4 1048.0,330.8 1050.0,331.0 1052.0,331.1 1054.0,331.2 1056.0,331.2 1058.0,331.1 1060.0,330.9 1062.0,330.6 1064.0,330.1 1066.0,329.5 1068.0,328.9 1070.0,328.4 1072.0,327.8 1074.0,327.2 1076.0,326.4 1078.0,325.5 1080.0,324.1 1082.0,322.4 1084.0,320.7 1086.0,319.0 1088.0,317.5 1090.0,316.1 1092.0,314.8 1094.0,313.7 1096.0,312.5 1098.0,311.4 1100.0,310.4 1102.0,309.4 1104.0,308.6 1106.0,307.7 1108.0,306.9 1110.0,306.1 1112.0,305.3 1114.0,304.4 1116.0,303.5 1118.0,302.6 1120.0,301.7 1122.0,300.8 1124.0,299.9 1126.0,299.0 1128.0,298.1 1129.0,297.6" fill="none" stroke="#78a69c" stroke-width="1"/>
<line x1="762" y1="296.7" x2="1221.5" y2="176.7" stroke="#4848e0" stroke-width="1.1"/>
<line x1="462" y1="433" x2="1201.5" y2="286.6" stroke="#4848e0" stroke-width="1.1"/>
<polyline points="10.0,519.8 12.0,519.4 14.0,519.0 16.0,518.6 18.0,518.2 20.0,517.9 22.0,517.5 24.0,517.1 26.0,516.7 28.0,516.3 30.0,516.0 32.0,515.6 34.0,515.3 36.0,514.9 38.0,514.6 40.0,514.2 42.0,513.9 44.0,513.5 46.0,513.2 48.0,512.9 50.0,512.5 52.0,512.2 54.0,511.9 56.0,511.5 58.0,511.2 60.0,510.8 62.0,510.5 64.0,510.1 66.0,509.7 68.0,509.3 70.0,508.9 72.0,508.4 74.0,508.0 76.0,507.5 78.0,507.1 80.0,506.6 82.0,506.1 84.0,505.6 86.0,505.2 88.0,504.7 90.0,504.1 92.0,503.6 94.0,503.1 96.0,502.6 98.0,502.0 100.0,501.5 102.0,500.9 104.0,500.3 106.0,499.7 108.0,499.2 110.0,498.6 112.0,498.0 114.0,497.5 116.0,496.9 118.0,496.4 120.0,495.8 122.0,495.3 124.0,494.8 126.0,494.2 128.0,493.7 130.0,493.1 132.0,492.6 134.0,492.1 136.0,491.5 138.0,491.0 140.0,490.4 142.0,489.8 144.0,489.2 146.0,488.7 148.0,488.1 150.0,487.5 152.0,486.9 154.0,486.3 156.0,485.7 158.0,485.1 160.0,484.5 162.0,483.9 164.0,483.3 166.0,482.7 168.0,482.1 170.0,481.5 172.0,480.9 174.0,480.3 176.0,479.6 178.0,479.0 180.0,478.4 182.0,477.8 184.0,477.1 186.0,476.5 188.0,475.9 190.0,475.2 192.0,474.6 194.0,474.0 196.0,473.3 198.0,472.7 200.0,472.0 202.0,471.3 204.0,470.7 206.0,470.0 208.0,469.3 210.0,468.7 212.0,468.0 214.0,467.3 216.0,466.7 218.0,466.0 220.0,465.3 222.0,464.7 224.0,464.0 226.0,463.4 228.0,462.7 230.0,462.1 232.0,461.4 234.0,460.8 236.0,460.1 238.0,459.5 240.0,458.9 242.0,458.3 244.0,457.7 246.0,457.1 248.0,456.5 250.0,455.9 252.0,455.3 254.0,454.8 256.0,454.2 258.0,453.7 260.0,453.1 262.0,452.6 264.0,452.1 266.0,451.6 268.0,451.1 270.0,450.6 272.0,450.2 274.0,449.7 276.0,449.3 278.0,448.9 280.0,448.4 282.0,448.0 284.0,447.6 286.0,447.3 288.0,446.9 290.0,446.5 292.0,446.2 294.0,445.9 296.0,445.5 298.0,445.2 300.0,444.9 302.0,444.6 304.0,444.3 306.0,444.0 308.0,443.7 310.0,443.4 312.0,443.2 314.0,442.9 316.0,442.6 318.0,442.3 320.0,442.0 322.0,441.6 324.0,441.3 326.0,441.0 328.0,440.7 330.0,440.3 332.0,440.0 334.0,439.7 336.0,439.3 338.0,439.0 340.0,438.7 342.0,438.3 344.0,438.0 346.0,437.7 348.0,437.4 350.0,437.1 352.0,436.9 354.0,436.6 356.0,436.3 358.0,436.1 360.0,435.8 362.0,435.6 364.0,435.4 366.0,435.1 368.0,434.9 370.0,434.7 372.0,434.5 374.0,434.3 376.0,434.1 378.0,433.9 380.0,433.7 382.0,433.5 384.0,433.3 386.0,433.1 388.0,432.8 390.0,432.6 392.0,432.4 394.0,432.1 396.0,431.8 398.0,431.6 400.0,431.3 402.0,431.0 404.0,430.8 406.0,430.6 408.0,430.3 410.0,430.1 412.0,429.9 414.0,429.8 416.0,429.6 418.0,429.4 420.0,429.3 422.0,429.1 424.0,429.0 426.0,428.8 428.0,428.7 430.0,428.5 432.0,428.4 434.0,428.2 436.0,428.1 438.0,427.9 440.0,427.7 442.0,427.6 444.0,427.4 446.0,427.3 448.0,427.1 450.0,427.0 452.0,426.8 454.0,426.7 456.0,426.5 458.0,426.3 460.0,426.2 462.0,426.0 464.0,425.8 466.0,425.6 468.0,425.4 470.0,425.2 472.0,425.0 474.0,424.9 476.0,424.7 478.0,424.5 480.0,424.3 482.0,424.1 484.0,423.9 486.0,423.7 488.0,423.5 490.0,423.4 492.0,423.2 494.0,423.0 496.0,422.9 498.0,422.8 500.0,422.7 502.0,422.6 504.0,422.5 506.0,422.4 508.0,422.3 510.0,422.2 512.0,422.2 514.0,422.1 516.0,422.0 518.0,422.0 520.0,421.9 522.0,421.9 524.0,421.8 526.0,421.8 528.0,421.7 530.0,421.7 532.0,421.6 534.0,421.6 536.0,421.5 538.0,421.4 540.0,421.4 542.0,421.3 544.0,421.3 546.0,421.2 548.0,421.1 550.0,421.0 552.0,420.9 554.0,420.8 556.0,420.6 558.0,420.5 560.0,420.4 562.0,420.2 564.0,420.1 566.0,420.0 568.0,419.8 570.0,419.7 572.0,419.5 574.0,419.3 576.0,419.2 578.0,419.0 580.0,418.8 582.0,418.6 584.0,418.5 586.0,418.3 588.0,418.1 590.0,417.9 592.0,417.7 594.0,417.5 596.0,417.3 598.0,417.1 600.0,416.8 602.0,416.6 604.0,416.4 606.0,416.1 608.0,415.9 610.0,415.6 612.0,415.3 614.0,415.1 616.0,414.8 618.0,414.5 620.0,414.2 622.0,413.9 624.0,413.6 626.0,413.3 628.0,413.0 630.0,412.7 632.0,412.4 634.0,412.1 636.0,411.8 638.0,411.5 640.0,411.3 642.0,411.0 644.0,410.7 646.0,410.4 648.0,410.2 650.0,409.9 652.0,409.6 654.0,409.4 656.0,409.1 658.0,408.8 660.0,408.6 662.0,408.3 664.0,408.0 666.0,407.7 668.0,407.4 670.0,407.1 672.0,406.8 674.0,406.4 676.0,406.1 678.0,405.8 680.0,405.4 682.0,405.1 684.0,404.7 686.0,404.4 688.0,404.0 690.0,403.7 692.0,403.3 694.0,402.9 696.0,402.6 698.0,402.2 700.0,401.8 702.0,401.4 704.0,401.1 706.0,400.7 708.0,400.3 710.0,399.9 712.0,399.5 714.0,399.0 716.0,398.6 718.0,398.2 720.0,397.8 722.0,397.3 724.0,396.8 726.0,396.3 728.0,395.8 730.0,395.2 732.0,394.7 734.0,394.1 736.0,393.4 738.0,392.8 740.0,392.2 742.0,391.5 744.0,390.9 746.0,390.2 748.0,389.5 750.0,388.8 752.0,388.1 754.0,387.4 756.0,386.7 758.0,385.9 760.0,385.1 762.0,384.3 764.0,383.5 766.0,382.7 768.0,381.9 770.0,381.1 772.0,380.3 774.0,379.5 776.0,378.7 778.0,377.9 780.0,377.1 782.0,376.3 784.0,375.6 786.0,374.9 788.0,374.2 790.0,373.5 792.0,372.8 794.0,372.1 796.0,371.4 798.0,370.7 800.0,370.0 802.0,369.3 804.0,368.6 806.0,367.9 808.0,367.1 810.0,366.4 812.0,365.7 814.0,364.9 816.0,364.2 818.0,363.6 820.0,362.9 822.0,362.2 824.0,361.6 826.0,361.0 828.0,360.4 830.0,359.8 832.0,359.2 834.0,358.6 836.0,357.9 838.0,357.3 840.0,356.6 842.0,355.9 844.0,355.1 846.0,354.4 848.0,353.6 850.0,352.8 852.0,352.1 854.0,351.3 856.0,350.6 858.0,349.8 860.0,349.1 862.0,348.4 864.0,347.7 866.0,347.1 868.0,346.4 870.0,345.8 872.0,345.2 874.0,344.7 876.0,344.1 878.0,343.5 880.0,343.0 882.0,342.4 884.0,341.9 886.0,341.3 888.0,340.8 890.0,340.2 892.0,339.7 894.0,339.1 896.0,338.6 898.0,338.0 900.0,337.5 902.0,337.0 904.0,336.5 906.0,335.9 908.0,335.4 910.0,334.9 912.0,334.4 914.0,333.8 916.0,333.3 918.0,332.8 920.0,332.3 922.0,331.7 924.0,331.2 926.0,330.6 928.0,330.1 930.0,329.6 932.0,329.0 934.0,328.5 936.0,328.0 938.0,327.5 940.0,326.9 942.0,326.4 944.0,325.9 946.0,325.4 948.0,324.9 950.0,324.4 952.0,323.9 954.0,323.3 956.0,322.8 958.0,322.3 960.0,321.8 962.0,321.2 964.0,320.7 966.0,320.2 968.0,319.7 970.0,319.2 972.0,318.7 974.0,318.2 976.0,317.7 978.0,317.2 980.0,316.8 982.0,316.3 984.0,315.9 986.0,315.5 988.0,315.1 990.0,314.7 992.0,314.3 994.0,313.9 996.0,313.5 998.0,313.1 1000.0,312.7 1002.0,312.3 1004.0,311.9 1006.0,311.4 1008.0,310.9 1010.0,310.4 1012.0,309.8 1014.0,309.2 1016.0,308.6 1018.0,307.9 1020.0,307.1 1022.0,306.4 1024.0,305.7 1026.0,304.9 1028.0,304.2 1030.0,303.5 1032.0,302.7 1034.0,302.0 1036.0,301.3 1038.0,300.6 1040.0,299.8 1042.0,299.1 1044.0,298.4 1046.0,297.8 1048.0,297.1 1050.0,296.4 1052.0,295.8 1054.0,295.1 1056.0,294.5 1058.0,294.0 1060.0,293.4 1062.0,292.8 1064.0,292.3 1066.0,291.8 1068.0,291.2 1070.0,290.7 1072.0,290.2 1074.0,289.7 1076.0,289.2 1078.0,288.7 1080.0,288.2 1082.0,287.7 1084.0,287.2 1086.0,286.7 1088.0,286.3 1090.0,285.8 1092.0,285.3 1094.0,284.9 1096.0,284.4 1098.0,283.9 1100.0,283.5 1102.0,283.0 1104.0,282.5 1106.0,282.1 1108.0,281.6 1110.0,281.2 1112.0,280.8 1114.0,280.4 1116.0,280.0 1118.0,279.7 1120.0,279.3 1122.0,279.0 1124.0,278.6 1126.0,278.3 1128.0,278.0 1130.0,277.7" fill="none" stroke="#e01a1a" stroke-width="2.7" stroke-linejoin="round"/>
<polyline points="10.0,496.6 12.0,496.0 14.0,495.4 16.0,494.7 18.0,494.1 20.0,493.5 22.0,492.9 24.0,492.3 26.0,491.6 28.0,491.0 30.0,490.4 32.0,489.7 34.0,489.1 36.0,488.4 38.0,487.7 40.0,487.0 42.0,486.3 44.0,485.6 46.0,485.0 48.0,484.3 50.0,483.7 52.0,483.1 54.0,482.6 56.0,482.1 58.0,481.7 60.0,481.2 62.0,480.8 64.0,480.3 66.0,479.8 68.0,479.3 70.0,478.7 72.0,478.1 74.0,477.5 76.0,476.9 78.0,476.3 80.0,475.8 82.0,475.3 84.0,474.8 86.0,474.3 88.0,473.9 90.0,473.5 92.0,473.1 94.0,472.7 96.0,472.3 98.0,471.9 100.0,471.6 102.0,471.2 104.0,470.9 106.0,470.6 108.0,470.3 110.0,470.0 112.0,469.7 114.0,469.5 116.0,469.2 118.0,469.0 120.0,468.7 122.0,468.5 124.0,468.3 126.0,468.0 128.0,467.7 130.0,467.3 132.0,467.0 134.0,466.5 136.0,466.1 138.0,465.6 140.0,465.1 142.0,464.6 144.0,464.1 146.0,463.5 148.0,463.0 150.0,462.4 152.0,461.8 154.0,461.2 156.0,460.6 158.0,460.0 160.0,459.3 162.0,458.6 164.0,457.9 166.0,457.2 168.0,456.4 170.0,455.6 172.0,454.8 174.0,454.0 176.0,453.2 178.0,452.4 180.0,451.6 182.0,450.8 184.0,450.0 186.0,449.2 188.0,448.4 190.0,447.5 192.0,446.7 194.0,445.8 196.0,444.9 198.0,444.0 200.0,443.1 202.0,442.3 204.0,441.5 206.0,440.7 208.0,439.9 210.0,439.1 212.0,438.3 214.0,437.5 216.0,436.8 218.0,436.0 220.0,435.2 222.0,434.4 224.0,433.6 226.0,432.8 228.0,432.0 230.0,431.3 232.0,430.5 234.0,429.7 236.0,429.0 238.0,428.2 240.0,427.4 242.0,426.7 244.0,425.9 246.0,425.2 248.0,424.6 250.0,424.0 252.0,423.6 254.0,423.1 256.0,422.8 258.0,422.5 260.0,422.2 262.0,422.0 264.0,421.8 266.0,421.6 268.0,421.4 270.0,421.2 272.0,421.0 274.0,420.8 276.0,420.5 278.0,420.2 280.0,419.9 282.0,419.6 284.0,419.2 286.0,418.9 288.0,418.6 290.0,418.3 292.0,418.0 294.0,417.8 296.0,417.5 298.0,417.3 300.0,417.2 302.0,417.0 304.0,416.9 306.0,416.8 308.0,416.7 310.0,416.6 312.0,416.5 314.0,416.5 316.0,416.4 318.0,416.4 320.0,416.4 322.0,416.5 324.0,416.5 326.0,416.6 328.0,416.7 330.0,416.8 332.0,416.9 334.0,417.0 336.0,417.2 338.0,417.4 340.0,417.6 342.0,417.8 344.0,418.0 346.0,418.2 348.0,418.5 350.0,418.7 352.0,419.0 354.0,419.3 356.0,419.6 358.0,419.9 360.0,420.1 362.0,420.4 364.0,420.6 366.0,420.8 368.0,421.0 370.0,421.2 372.0,421.4 374.0,421.6 376.0,421.8 378.0,422.0 380.0,422.2 382.0,422.4 384.0,422.7 386.0,423.0 388.0,423.5 390.0,424.0 392.0,424.5 394.0,425.1 396.0,425.7 398.0,426.3 400.0,426.9 402.0,427.4 404.0,428.0 406.0,428.4 408.0,428.8 410.0,429.1 412.0,429.4 414.0,429.6 416.0,429.8 418.0,429.9 420.0,430.1 422.0,430.2 424.0,430.3 426.0,430.4 428.0,430.5 430.0,430.6 432.0,430.7 434.0,430.7 436.0,430.8 438.0,430.9 440.0,430.9 442.0,431.0 444.0,431.0 446.0,431.1 448.0,431.1 450.0,431.2 452.0,431.2 454.0,431.3 456.0,431.3 458.0,431.3 460.0,431.3 462.0,431.3 464.0,431.2 466.0,431.1 468.0,431.0 470.0,430.8 472.0,430.5 474.0,430.3 476.0,430.0 478.0,429.7 480.0,429.4 482.0,429.1 484.0,428.7 486.0,428.3 488.0,427.9 490.0,427.5 492.0,427.1 494.0,426.8 496.0,426.4 498.0,426.1 500.0,425.8 502.0,425.6 504.0,425.3 506.0,425.1 508.0,424.9 510.0,424.7 512.0,424.5 514.0,424.4 516.0,424.2 518.0,424.1 520.0,424.0 522.0,423.8 524.0,423.6 526.0,423.5 528.0,423.3 530.0,423.1 532.0,422.9 534.0,422.7 536.0,422.4 538.0,422.1 540.0,421.8 542.0,421.5 544.0,421.0 546.0,420.5 548.0,420.0 550.0,419.4 552.0,418.8 554.0,418.2 556.0,417.6 558.0,416.9 560.0,416.2 562.0,415.5 564.0,414.8 566.0,414.1 568.0,413.4 570.0,412.7 572.0,412.0 574.0,411.3 576.0,410.6 578.0,409.9 580.0,409.2 582.0,408.5 584.0,407.8 586.0,407.0 588.0,406.3 590.0,405.5 592.0,404.7 594.0,403.9 596.0,403.1 598.0,402.4 600.0,401.6 602.0,400.9 604.0,400.1 606.0,399.4 608.0,398.7 610.0,398.0 612.0,397.4 614.0,396.7 616.0,396.1 618.0,395.4 620.0,394.8 622.0,394.2 624.0,393.7 626.0,393.1 628.0,392.5 630.0,392.0 632.0,391.5 634.0,390.9 636.0,390.5 638.0,390.0 640.0,389.5 642.0,389.1 644.0,388.7 646.0,388.4 648.0,388.1 650.0,387.8 652.0,387.5 654.0,387.2 656.0,387.0 658.0,386.6 660.0,386.3 662.0,385.9 664.0,385.5 666.0,385.0 668.0,384.5 670.0,384.0 672.0,383.5 674.0,382.9 676.0,382.3 678.0,381.7 680.0,381.1 682.0,380.5 684.0,379.8 686.0,379.2 688.0,378.5 690.0,377.8 692.0,377.0 694.0,376.3 696.0,375.6 698.0,374.9 700.0,374.3 702.0,373.6 704.0,373.0 706.0,372.4 708.0,371.8 710.0,371.2 712.0,370.6 714.0,370.0 716.0,369.4 718.0,368.8 720.0,368.2 722.0,367.6 724.0,367.0 726.0,366.4 728.0,365.8 730.0,365.1 732.0,364.5 734.0,363.9 736.0,363.2 738.0,362.6 740.0,361.9 742.0,361.3 744.0,360.6 746.0,360.0 748.0,359.3 750.0,358.6 752.0,357.9 754.0,357.2 756.0,356.5 758.0,355.7 760.0,354.9 762.0,354.0 764.0,353.2 766.0,352.3 768.0,351.4 770.0,350.5 772.0,349.5 774.0,348.6 776.0,347.6 778.0,346.6 780.0,345.6 782.0,344.6 784.0,343.6 786.0,342.7 788.0,341.8 790.0,341.0 792.0,340.1 794.0,339.3 796.0,338.5 798.0,337.7 800.0,336.8 802.0,335.8 804.0,334.8 806.0,333.8 808.0,332.8 810.0,331.8 812.0,330.8 814.0,329.9 816.0,329.0 818.0,328.1 820.0,327.2 822.0,326.4 824.0,325.6 826.0,324.8 828.0,324.0 830.0,323.3 832.0,322.5 834.0,321.8 836.0,321.0 838.0,320.3 840.0,319.5 842.0,318.6 844.0,317.8 846.0,317.0 848.0,316.2 850.0,315.4 852.0,314.6 854.0,313.8 856.0,313.0 858.0,312.2 860.0,311.3 862.0,310.4 864.0,309.5 866.0,308.6 868.0,307.8 870.0,307.0 872.0,306.2 874.0,305.5 876.0,304.9 878.0,304.3 880.0,303.7 882.0,303.2 884.0,302.7 886.0,302.2 888.0,301.8 890.0,301.4 892.0,301.0 894.0,300.6 896.0,300.3 898.0,299.9 900.0,299.6 902.0,299.4 904.0,299.1 906.0,298.9 908.0,298.6 910.0,298.4 912.0,298.2 914.0,298.1 916.0,297.9 918.0,297.8 920.0,297.7 922.0,297.6 924.0,297.5 926.0,297.4 928.0,297.3 930.0,297.2 932.0,297.0 934.0,296.9 936.0,296.8 938.0,296.6 940.0,296.5 942.0,296.3 944.0,296.2 946.0,296.1 948.0,296.0 950.0,295.9 952.0,295.8 954.0,295.7 956.0,295.6 958.0,295.5 960.0,295.3 962.0,295.2 964.0,295.1 966.0,294.9 968.0,294.8 970.0,294.7 972.0,294.5 974.0,294.4 976.0,294.3 978.0,294.2 980.0,294.0 982.0,293.9 984.0,293.8 986.0,293.6 988.0,293.5 990.0,293.4 992.0,293.2 994.0,293.1 996.0,293.0 998.0,292.8 1000.0,292.7 1002.0,292.5 1004.0,292.4 1006.0,292.2 1008.0,292.0 1010.0,291.7 1012.0,291.4 1014.0,291.0 1016.0,290.5 1018.0,290.0 1020.0,289.4 1022.0,288.8 1024.0,288.2 1026.0,287.5 1028.0,286.9 1030.0,286.2 1032.0,285.5 1034.0,284.8 1036.0,284.1 1038.0,283.4 1040.0,282.7 1042.0,282.0 1044.0,281.3 1046.0,280.6 1048.0,279.9 1050.0,279.2 1052.0,278.6 1054.0,277.9 1056.0,277.4 1058.0,276.8 1060.0,276.4 1062.0,275.9 1064.0,275.5 1066.0,275.0 1068.0,274.6 1070.0,274.1 1072.0,273.6 1074.0,273.1 1076.0,272.5 1078.0,271.9 1080.0,271.2 1082.0,270.5 1084.0,269.8 1086.0,269.0 1088.0,268.3 1090.0,267.5 1092.0,266.8 1094.0,266.1 1096.0,265.4 1098.0,264.7 1100.0,264.0 1102.0,263.4 1104.0,262.7 1106.0,262.1 1108.0,261.5 1110.0,260.9 1112.0,260.3 1114.0,259.7 1116.0,259.1 1118.0,258.5 1120.0,257.9 1122.0,257.4 1124.0,256.8 1126.0,256.3 1128.0,255.8 1130.0,255.2" fill="none" stroke="#2a8474" stroke-width="3.0" stroke-linejoin="round"/>
<polyline points="10.3,481.9 13.3,480.5 16.8,480.2 18.6,478.4 21.2,476.6 23.0,474.5 24.7,471.0 27.4,470.4 30.0,471.3 31.8,474.5 34.5,476.6 36.2,481.0 38.0,483.3 39.2,485.5 40.7,480.2 42.4,476.6 45.1,476.3 47.7,477.5 51.3,478.4 63.6,478.4 64.5,471.3 65.4,460.7 66.8,458.1 68.9,460.7 72.5,460.7 76.0,461.6 79.5,462.5 83.1,462.5 86.6,460.7 88.4,455.4 89.3,450.1 91.9,451.9 96.3,453.6 99.0,451.9 102.5,451.0 106.1,450.1 111.4,451.0 114.9,446.6 117.6,442.1 120.2,443.9 123.7,445.7 129.0,445.7 132.4,443.5 134.0,437.9 134.8,447.5 136.4,440.3 139.6,438.7 141.3,434.7 142.9,432.2 144.5,429.8 144.8,414.6 145.3,422.6 150.9,422.6 154.1,423.4 156.5,423.4 158.1,425.0 159.3,430.6 161.3,426.6 164.6,426.6 165.4,421.8 168.6,421.0 174.2,421.0 174.2,408.1 176.6,406.5 179.8,404.1 183.0,404.1 186.3,404.1 187.9,405.7 190.3,403.3 192.7,406.5 195.1,404.1 199.1,402.5 201.5,400.1 203.6,397.7 204.7,400.9 209.6,400.9 210.4,412.1 211.2,417.0 213.6,414.6 216.0,416.2 218.4,419.4 220.8,425.8 222.4,417.8 224.8,416.2 228.1,412.1 230.5,408.9 232.9,405.7 235.3,405.4 242.5,405.7 243.3,410.5 245.7,408.9 246.5,408.1" fill="none" stroke="#1f1fd6" stroke-width="1.2" stroke-linejoin="miter"/>
<path d="M10.5,480.3V483.6M11.5,479.8V483.0M12.5,479.9V482.6M13.5,478.2V481.2M12.5,479.3h2M14.5,478.0V482.5M13.5,481.8h2M15.5,477.6V482.3M16.5,479.4V480.8M17.5,478.9V480.4M16.5,478.1h2M18.5,476.9V480.0M19.5,476.1V479.7M18.5,478.3h2M20.5,475.5V478.2M21.5,473.5V478.7M22.5,473.9V476.1M21.5,473.8h2M23.5,471.2V474.9M24.5,470.0V474.1M25.5,470.3V471.8M26.5,469.0V473.4M25.5,469.3h2M27.5,468.5V472.7M26.5,469.2h2M28.5,469.5V473.5M29.5,470.4V472.2M28.5,469.8h2M30.5,469.9V473.1M31.5,472.4V474.9M32.5,474.2V477.0M31.5,474.8h2M33.5,474.8V476.9M34.5,474.3V477.8M35.5,478.2V480.6M36.5,479.4V482.1M37.5,481.7V483.8M38.5,483.0V485.4M37.5,483.0h2M39.5,482.6V485.5M40.5,479.6V482.4M41.5,476.9V480.3M42.5,475.7V477.4M43.5,474.1V477.6M42.5,477.2h2M44.5,473.7V477.3M45.5,474.0V478.4M44.5,475.3h2M46.5,476.4V479.7M45.5,477.6h2M47.5,476.3V479.8M48.5,476.5V478.6M49.5,477.3V479.0M50.5,475.7V480.1M49.5,479.5h2M51.5,477.4V478.9M50.5,478.2h2M52.5,477.8V479.3M51.5,478.6h2M53.5,477.6V479.7M54.5,475.6V480.4M55.5,476.6V479.2M54.5,477.0h2M56.5,475.8V480.5M57.5,477.9V480.4M56.5,479.1h2M58.5,477.2V481.2M57.5,478.5h2M59.5,476.2V481.0M60.5,476.3V480.7M61.5,477.1V480.5M62.5,475.9V479.9M63.5,475.9V480.2M64.5,469.9V473.1M65.5,459.8V462.5M66.5,456.1V460.8M65.5,459.4h2M67.5,457.1V460.5M68.5,459.5V462.4M67.5,460.5h2M69.5,459.1V461.7M70.5,459.1V462.6M71.5,459.6V461.2M70.5,461.2h2M72.5,459.7V461.6M73.5,458.9V462.5M74.5,460.0V463.2M73.5,461.0h2M75.5,459.1V464.1M76.5,460.3V463.6M75.5,460.6h2M77.5,460.3V464.4M78.5,460.1V464.9M77.5,461.3h2M79.5,461.0V463.6M78.5,462.2h2M80.5,460.6V464.1M79.5,463.5h2M81.5,459.7V464.0M80.5,461.1h2M82.5,460.0V463.1M83.5,460.5V463.5M84.5,461.2V462.6M83.5,460.4h2M85.5,458.9V462.3M84.5,459.9h2M86.5,458.8V462.3M87.5,456.0V460.4M88.5,452.7V455.8M87.5,453.8h2M89.5,449.7V451.8M90.5,450.0V452.1M89.5,451.5h2M91.5,449.9V453.5M92.5,450.7V454.5M93.5,451.8V455.2M94.5,452.1V454.4M95.5,450.7V454.7M96.5,451.0V455.8M97.5,451.3V454.8M96.5,453.5h2M98.5,449.8V454.2M99.5,450.8V454.3M100.5,448.8V453.2M101.5,450.0V453.9M102.5,449.7V451.7M101.5,451.2h2M103.5,448.5V452.4M102.5,451.7h2M104.5,449.9V452.8M103.5,450.0h2M105.5,447.9V451.1M104.5,450.3h2M106.5,448.0V452.6M107.5,447.7V452.0M108.5,449.8V451.5M109.5,449.5V452.9M110.5,449.1V453.3M111.5,449.7V452.3M112.5,447.0V450.6M113.5,445.6V450.1M114.5,446.1V448.8M115.5,443.7V446.2M116.5,442.2V445.4M117.5,440.5V443.9M118.5,442.1V444.5M117.5,444.1h2M119.5,440.8V444.5M118.5,442.3h2M120.5,442.6V446.4M121.5,443.0V445.8M120.5,444.9h2M122.5,442.5V445.9M123.5,445.0V446.5M122.5,446.2h2M124.5,444.5V447.0M125.5,445.0V447.9M124.5,445.7h2M126.5,444.6V446.7M127.5,444.2V447.1M126.5,445.8h2M128.5,444.8V446.7M129.5,443.4V447.1M130.5,442.8V447.2M129.5,445.5h2M131.5,441.7V446.7M130.5,443.5h2M132.5,440.5V444.2M133.5,437.1V440.5M132.5,440.3h2M134.5,442.8V444.6M135.5,442.9V446.7M134.5,444.1h2M136.5,438.2V440.8M135.5,440.8h2M137.5,437.2V442.5M136.5,439.8h2M138.5,437.0V440.9M139.5,437.8V439.4M138.5,437.4h2M140.5,434.8V438.3M141.5,433.6V435.3M140.5,435.4h2M142.5,430.0V435.5M141.5,431.5h2M143.5,428.6V432.9M144.5,428.5V431.4M145.5,421.1V424.5M144.5,423.2h2M146.5,420.2V423.5M145.5,423.3h2M147.5,421.2V423.5M146.5,422.6h2M148.5,422.1V425.2M149.5,420.5V425.1M150.5,421.2V424.5M151.5,420.0V425.1M150.5,424.0h2M152.5,420.8V425.3M153.5,421.8V425.8M154.5,421.3V425.7M155.5,422.0V425.6M154.5,422.9h2M156.5,421.8V423.9M155.5,423.8h2M157.5,422.5V425.4M158.5,424.8V428.1M159.5,428.4V431.9M158.5,431.7h2M160.5,426.2V430.3M161.5,423.8V427.2M162.5,424.4V427.7M161.5,425.3h2M163.5,425.7V428.0M162.5,425.9h2M164.5,424.0V428.4M165.5,419.1V423.6M166.5,419.6V423.9M165.5,421.8h2M167.5,419.0V421.9M168.5,420.2V422.6M167.5,421.0h2M169.5,419.1V421.6M170.5,419.5V422.7M171.5,419.7V422.2M172.5,419.2V422.2M173.5,419.8V421.5M172.5,419.6h2M174.5,407.0V410.1M173.5,409.1h2M175.5,405.0V407.8M176.5,403.9V407.2M177.5,404.3V407.4M178.5,404.0V406.8M179.5,402.2V405.9M180.5,401.7V406.0M179.5,404.5h2M181.5,402.6V405.1M180.5,404.2h2M182.5,403.3V405.6M183.5,402.6V405.2M184.5,402.6V406.4M185.5,401.3V406.8M186.5,403.3V405.1M187.5,403.0V407.2M186.5,404.6h2M188.5,403.0V406.9M189.5,402.1V406.3M188.5,403.3h2M190.5,400.8V406.2M191.5,404.3V405.5M190.5,404.7h2M192.5,404.3V407.0M193.5,405.0V406.4M194.5,402.9V406.7M193.5,404.6h2M195.5,403.0V405.2M196.5,401.1V404.2M195.5,404.5h2M197.5,401.2V405.4M196.5,402.9h2M198.5,401.6V405.1M197.5,403.2h2M199.5,399.3V403.3M200.5,398.9V403.7M199.5,400.7h2M201.5,399.4V402.6M200.5,398.8h2M202.5,397.2V400.6M203.5,396.6V400.1M202.5,397.0h2M204.5,398.3V401.0M203.5,401.0h2M205.5,398.8V402.1M204.5,400.5h2M206.5,398.7V402.2M205.5,401.5h2M207.5,399.1V403.5M208.5,398.3V402.4M209.5,399.7V402.1M208.5,402.2h2M210.5,410.2V413.8M209.5,412.3h2M211.5,415.4V418.1M210.5,415.8h2M212.5,413.9V418.0M213.5,412.3V416.5M212.5,415.5h2M214.5,412.7V416.3M213.5,415.2h2M215.5,414.1V417.7M216.5,414.9V419.2M215.5,417.0h2M217.5,415.9V418.9M216.5,418.9h2M218.5,417.1V420.4M219.5,421.5V424.5M220.5,423.9V426.0M221.5,420.6V424.6M220.5,421.8h2M222.5,415.0V419.8M221.5,417.8h2M223.5,414.9V419.2M224.5,415.0V418.8M225.5,412.9V417.7M226.5,411.5V416.8M227.5,411.1V415.0M228.5,410.1V413.0M227.5,412.3h2M229.5,407.5V411.6M228.5,409.3h2M230.5,407.4V410.1M231.5,406.9V408.8M230.5,408.0h2M232.5,403.9V407.1M231.5,406.1h2M233.5,403.8V408.2M232.5,404.5h2M234.5,404.6V406.5M233.5,406.2h2M235.5,403.5V406.4M234.5,404.8h2M236.5,404.6V407.7M235.5,405.6h2M237.5,403.1V407.1M236.5,406.7h2M238.5,402.9V406.8M239.5,402.9V407.2M238.5,404.2h2M240.5,402.9V408.0M239.5,405.7h2M241.5,404.0V406.8M242.5,403.7V406.7M241.5,405.6h2M243.5,409.0V412.7M244.5,407.8V410.6M243.5,409.2h2M245.5,407.9V411.5M246.5,406.1V410.9M245.5,408.2h2" stroke="#1f1fd6" stroke-width="1" fill="none"/>
<polyline points="249.0,403.8 253.0,404.1 253.0,426.6 255.4,428.2 258.6,431.4 260.0,432.7 264.3,433.4 267.2,435.6 268.7,433.4 271.6,434.1 274.5,433.4 277.4,431.2 279.5,434.8 281.7,436.3 283.9,433.4 286.0,427.6 288.2,422.5 290.4,421.1 293.3,426.9 294.7,414.6 297.6,413.9 301.9,413.1 305.6,413.9 308.5,411.4 309.9,421.1 312.1,419.6 315.0,419.6 317.9,418.9 320.7,420.4 323.6,421.8 325.8,429.1 328.0,421.1 329.4,425.4 330.9,431.2 332.3,424.0 335.2,426.2 338.1,428.3 341.0,428.3 343.9,429.1 346.1,425.4 346.8,421.1 349.7,416.8" fill="none" stroke="#e82020" stroke-width="1.2" stroke-linejoin="miter"/>
<path d="M249.5,403.0V406.1M248.5,404.8h2M250.5,401.5V406.3M249.5,403.2h2M251.5,401.8V404.7M250.5,403.9h2M252.5,401.4V405.9M253.5,425.7V429.2M252.5,428.2h2M254.5,426.9V430.0M253.5,427.7h2M255.5,426.6V429.2M256.5,428.1V430.5M255.5,428.7h2M257.5,428.7V432.4M256.5,430.9h2M258.5,430.6V432.7M257.5,432.7h2M259.5,429.8V434.2M258.5,431.9h2M260.5,430.6V433.8M261.5,431.4V433.5M262.5,430.8V434.1M263.5,432.1V434.6M264.5,432.4V434.8M263.5,434.1h2M265.5,433.2V435.3M266.5,433.8V437.7M267.5,433.0V436.4M268.5,433.0V434.5M267.5,434.2h2M269.5,431.5V434.5M268.5,434.6h2M270.5,432.0V434.5M269.5,432.8h2M271.5,433.3V435.5M270.5,435.3h2M272.5,432.4V435.6M273.5,431.4V436.0M272.5,433.1h2M274.5,432.0V433.9M273.5,434.0h2M275.5,429.9V435.0M276.5,430.0V432.4M275.5,431.4h2M277.5,429.4V432.1M276.5,431.4h2M278.5,430.8V435.5M279.5,433.9V437.1M280.5,433.7V436.8M281.5,435.3V438.3M282.5,433.6V437.4M283.5,433.0V436.6M284.5,430.8V432.4M283.5,432.0h2M285.5,426.9V430.2M286.5,425.1V428.0M285.5,427.9h2M287.5,423.3V426.7M288.5,420.5V424.1M287.5,423.5h2M289.5,418.9V424.1M290.5,420.5V423.7M289.5,422.5h2M291.5,422.2V425.1M292.5,424.4V427.1M291.5,423.9h2M293.5,424.2V427.9M294.5,414.3V417.6M295.5,412.2V415.8M296.5,411.8V414.7M295.5,414.1h2M297.5,413.1V415.3M298.5,412.8V415.4M297.5,413.9h2M299.5,412.3V415.5M298.5,414.1h2M300.5,412.5V416.1M301.5,411.6V414.6M302.5,411.1V415.5M303.5,411.8V416.2M304.5,411.2V415.1M303.5,413.9h2M305.5,411.3V415.6M306.5,411.6V415.7M305.5,411.8h2M307.5,410.1V414.8M308.5,409.5V413.6M307.5,411.7h2M309.5,417.7V419.1M308.5,418.3h2M310.5,419.3V421.3M311.5,418.3V421.1M310.5,419.7h2M312.5,418.6V420.3M313.5,416.9V421.6M314.5,418.1V422.0M313.5,420.3h2M315.5,417.7V422.1M314.5,420.4h2M316.5,418.5V421.0M317.5,418.5V420.1M316.5,418.5h2M318.5,418.6V421.8M319.5,418.3V421.1M320.5,419.7V420.9M321.5,419.6V422.4M322.5,418.5V422.9M321.5,420.7h2M323.5,419.1V424.3M322.5,422.8h2M324.5,423.5V426.4M323.5,425.9h2M325.5,425.3V429.1M326.5,425.6V429.1M325.5,425.4h2M327.5,420.7V424.1M328.5,420.1V424.8M327.5,423.2h2M329.5,423.1V427.3M328.5,425.0h2M330.5,428.4V431.8M329.5,428.7h2M331.5,427.1V430.1M332.5,422.8V426.2M333.5,423.1V425.9M332.5,426.2h2M334.5,423.6V426.8M335.5,425.7V429.2M334.5,426.5h2M336.5,425.4V427.7M337.5,426.7V428.9M338.5,427.6V429.5M339.5,427.2V429.4M340.5,427.4V430.9M341.5,427.9V430.0M342.5,427.3V431.4M341.5,427.8h2M343.5,427.2V431.0M342.5,429.5h2M344.5,425.8V429.8M345.5,424.0V428.5M346.5,420.3V423.8M347.5,419.2V422.0M346.5,419.9h2M348.5,416.3V420.9M349.5,416.1V418.7M348.5,417.3h2" stroke="#e82020" stroke-width="1" fill="none"/>
<polyline points="351.1,412.4 351.8,433.4 353.3,424.7 355.5,428.3 358.4,431.2 360.5,434.8" fill="none" stroke="#1f1fd6" stroke-width="1.2" stroke-linejoin="miter"/>
<path d="M351.5,422.8V425.0M352.5,427.2V431.2M353.5,424.1V425.9M352.5,425.0h2M354.5,425.2V428.2M353.5,427.6h2M355.5,427.6V430.9M356.5,427.6V431.6M355.5,428.2h2M357.5,429.1V430.9M356.5,430.7h2M358.5,429.7V432.5M359.5,432.4V435.5M358.5,432.4h2M360.5,433.9V436.9" stroke="#1f1fd6" stroke-width="1" fill="none"/>
<polyline points="362.0,437.7 363.4,429.1 365.6,426.9 367.8,429.8 369.9,428.3 372.1,424.7 373.5,411.0 375.7,410.2" fill="none" stroke="#e82020" stroke-width="1.2" stroke-linejoin="miter"/>
<path d="M362.5,432.3V435.3M361.5,434.2h2M363.5,428.0V431.7M362.5,429.0h2M364.5,425.7V430.8M363.5,427.9h2M365.5,424.8V427.6M364.5,428.2h2M366.5,427.3V429.5M365.5,427.9h2M367.5,428.7V430.0M368.5,427.0V431.5M367.5,428.6h2M369.5,426.8V429.6M368.5,429.9h2M370.5,426.0V428.6M371.5,423.8V426.3M370.5,426.1h2M372.5,420.2V422.1M373.5,408.5V412.9M374.5,409.1V412.0M375.5,408.9V412.6M374.5,409.8h2" stroke="#e82020" stroke-width="1" fill="none"/>
<polyline points="375.7,410.2 377.2,409.5 379.0,410.0" fill="none" stroke="#1f1fd6" stroke-width="1.2" stroke-linejoin="miter"/>
<path d="M375.5,409.3V412.0M374.5,409.3h2M376.5,408.8V411.4M375.5,409.7h2M377.5,406.8V411.6M378.5,408.9V411.2M377.5,410.4h2" stroke="#1f1fd6" stroke-width="1" fill="none"/>
<polyline points="380.8,411.0 380.8,442.8 382.9,437.7 385.1,439.2 387.3,450.7 389.4,446.4 390.9,463.0 392.3,447.9 393.5,460.2 395.2,453.6 396.7,466.7 398.1,452.2 400.6,456.6 402.4,452.2 405.0,449.5 406.8,444.2" fill="none" stroke="#e82020" stroke-width="1.2" stroke-linejoin="miter"/>
<path d="M380.5,409.7V412.1M379.5,410.0h2M381.5,440.0V442.5M382.5,436.5V439.8M381.5,437.6h2M383.5,435.5V439.4M384.5,436.6V441.4M383.5,438.3h2M385.5,439.9V442.0M386.5,445.3V448.8M387.5,449.7V451.7M386.5,448.9h2M388.5,447.4V450.1M387.5,447.7h2M389.5,446.0V449.3M388.5,448.1h2M390.5,457.5V460.7M391.5,455.7V457.5M390.5,457.2h2M392.5,448.5V451.3M393.5,459.2V461.4M392.5,459.3h2M394.5,455.7V456.9M395.5,454.4V458.6M396.5,463.8V467.0M397.5,457.4V460.5M398.5,450.2V455.4M397.5,453.3h2M399.5,454.0V456.1M398.5,453.3h2M400.5,455.0V457.7M399.5,455.8h2M401.5,453.5V455.8M400.5,453.4h2M402.5,450.1V453.1M401.5,451.6h2M403.5,449.6V451.9M404.5,447.9V451.8M405.5,447.5V449.4M404.5,446.7h2M406.5,443.7V445.7M405.5,445.3h2" stroke="#e82020" stroke-width="1" fill="none"/>
<polyline points="407.7,438.1 409.4,451.3 411.2,440.7 413.9,437.2 416.5,438.9 420.1,439.8 423.6,437.2 427.1,433.6 431.5,432.8 435.1,434.5 437.7,433.6 438.6,445.1 441.3,431.9 443.9,431.9 446.6,429.2 449.2,418.6 451.0,423.0 452.8,434.5 454.5,428.3 457.2,423.0 460.7,422.1 464.2,421.3 467.8,423.0 469.2,426.6 470.4,421.3 472.2,417.7 474.9,415.1 478.4,414.2 481.0,412.4 481.9,398.3 482.3,393.0 484.6,398.3 487.2,396.5 489.0,387.7 491.6,386.8 494.3,387.7 496.6,382.0 498.7,387.7 501.0,394.7 504.0,396.5 505.8,400.9 507.6,398.3 510.2,405.4 512.0,412.4 513.7,408.0 517.3,408.9 520.0,405.9 523.2,408.3 525.6,413.1 527.2,408.3 531.3,407.5 536.1,408.3 540.9,409.1 542.5,405.9 544.1,397.1 546.5,400.3 548.9,402.7 552.1,403.5 554.6,403.5 554.6,388.2 557.0,386.6 560.2,388.2 562.6,391.4 565.8,389.8 568.2,386.6 570.6,388.2 573.0,385.0 575.5,393.0 577.9,387.4 581.1,385.8 584.3,384.2 585.9,383.4 587.2,364.1 588.3,362.5 590.7,363.3 593.9,364.1 597.2,363.3 598.8,372.1 600.4,374.6 603.6,375.4 606.8,376.2 610.0,377.0 613.2,377.8 616.4,379.4 618.9,378.6 621.3,373.8 623.7,375.4 626.1,372.1 627.7,368.1 629.3,373.0 632.5,373.8 635.7,374.6 638.1,373.8 642.2,374.6 645.4,373.0 648.6,371.3 651.0,377.0 653.4,373.0 656.6,373.8 659.6,371.6 664.5,372.4 668.5,371.6 670.9,376.4 672.5,366.8 674.1,362.0 676.5,363.6 679.7,365.2 682.1,366.0 682.1,353.9 685.4,353.1 689.4,353.1 691.8,353.1 692.6,349.1 695.0,345.1 698.2,347.5 700.6,349.9 703.0,346.7 705.5,347.5 707.9,346.7 711.1,349.1 712.7,340.3 715.1,337.1 717.5,332.2 719.9,334.7 723.1,337.9 725.5,333.0 728.8,329.8 730.4,323.4 732.8,322.1 735.2,324.2 738.4,327.4 741.6,328.2 744.8,327.4 747.3,328.2 749.7,325.8 752.9,324.2 756.1,321.8 759.3,314.6 761.7,317.8 763.3,317.8 764.9,308.9 766.5,305.7 768.1,300.9 769.0,296.1 772.2,297.7 775.4,299.3 777.8,304.1 780.2,301.7 782.4,298.2 784.0,296.6 786.4,297.4 788.8,297.4 790.4,303.9 792.9,304.7 796.1,303.0 797.7,302.2 800.1,299.8 802.5,295.0 804.9,291.8 807.3,290.2 809.7,292.6 811.3,298.2 813.0,305.5" fill="none" stroke="#1f1fd6" stroke-width="1.2" stroke-linejoin="miter"/>
<path d="M407.5,436.5V439.3M406.5,436.7h2M408.5,443.0V446.9M409.5,449.6V452.7M408.5,450.6h2M410.5,442.9V447.5M409.5,445.1h2M411.5,437.6V442.6M412.5,437.1V440.5M411.5,438.3h2M413.5,435.3V440.2M412.5,438.9h2M414.5,437.0V438.4M415.5,437.0V439.6M416.5,438.1V439.8M415.5,439.4h2M417.5,438.1V439.7M418.5,438.0V440.5M417.5,439.9h2M419.5,437.9V441.6M420.5,437.1V442.2M419.5,439.0h2M421.5,436.2V440.0M422.5,435.9V440.1M423.5,434.9V438.1M424.5,434.6V438.1M423.5,435.6h2M425.5,433.0V437.0M424.5,434.5h2M426.5,433.0V435.1M427.5,432.7V434.2M426.5,432.3h2M428.5,431.2V434.1M427.5,434.2h2M429.5,431.6V434.0M430.5,430.5V433.6M429.5,433.0h2M431.5,430.5V434.2M432.5,432.2V435.4M431.5,432.8h2M433.5,431.5V436.2M434.5,432.4V435.7M435.5,432.4V436.8M436.5,433.2V435.4M437.5,432.6V434.6M436.5,433.9h2M438.5,441.2V446.6M437.5,444.4h2M439.5,439.2V442.7M438.5,442.0h2M440.5,433.0V436.4M441.5,431.1V432.5M440.5,432.6h2M442.5,429.1V432.7M441.5,430.5h2M443.5,430.2V433.5M442.5,431.3h2M444.5,429.0V433.7M443.5,431.0h2M445.5,428.4V432.6M446.5,427.9V431.4M447.5,423.2V426.4M446.5,424.4h2M448.5,418.8V422.5M447.5,420.3h2M449.5,418.1V419.9M450.5,420.9V423.7M449.5,421.0h2M451.5,424.6V427.5M450.5,424.8h2M452.5,431.9V435.1M451.5,431.3h2M453.5,431.0V433.6M454.5,427.3V430.8M453.5,428.0h2M455.5,424.0V427.7M454.5,426.5h2M456.5,422.4V426.3M455.5,425.7h2M457.5,420.4V425.7M456.5,423.9h2M458.5,420.5V423.6M457.5,421.7h2M459.5,421.6V423.1M458.5,423.2h2M460.5,420.9V423.8M459.5,421.3h2M461.5,419.2V422.4M462.5,419.3V424.0M463.5,420.0V423.8M464.5,419.2V424.2M463.5,422.8h2M465.5,420.5V424.0M464.5,423.1h2M466.5,421.8V424.2M465.5,422.1h2M467.5,421.5V424.9M468.5,423.5V426.8M467.5,424.1h2M469.5,422.7V426.5M468.5,424.8h2M470.5,418.9V422.1M471.5,417.3V421.2M470.5,417.9h2M472.5,416.6V418.7M471.5,415.9h2M473.5,414.8V417.9M472.5,416.6h2M474.5,412.8V416.5M475.5,413.7V417.2M474.5,416.4h2M476.5,413.2V417.4M475.5,414.4h2M477.5,412.3V415.3M476.5,415.0h2M478.5,411.5V415.4M477.5,413.7h2M479.5,410.7V414.3M480.5,411.4V414.7M479.5,413.1h2M481.5,402.0V407.0M482.5,391.8V395.3M481.5,394.5h2M483.5,393.7V397.3M484.5,396.6V399.5M483.5,398.4h2M485.5,395.9V399.4M484.5,398.1h2M486.5,395.5V398.8M487.5,392.4V395.9M486.5,396.5h2M488.5,387.9V391.4M489.5,384.8V389.0M490.5,386.4V390.0M489.5,386.4h2M491.5,384.4V388.8M492.5,384.7V389.4M493.5,384.6V388.1M494.5,385.1V388.3M495.5,383.2V386.5M496.5,381.3V383.4M497.5,383.8V386.2M498.5,385.5V388.2M499.5,387.7V392.4M500.5,390.6V395.5M499.5,392.8h2M501.5,394.3V395.6M500.5,396.1h2M502.5,393.2V396.4M501.5,395.3h2M503.5,393.7V398.1M504.5,397.1V400.5M503.5,398.1h2M505.5,397.7V402.3M504.5,400.7h2M506.5,398.4V400.4M505.5,399.3h2M507.5,396.5V399.6M508.5,398.7V401.7M507.5,401.3h2M509.5,401.9V404.3M508.5,404.8h2M510.5,404.7V407.9M509.5,408.1h2M511.5,408.4V412.6M510.5,409.9h2M512.5,409.7V411.9M513.5,407.0V410.9M512.5,408.4h2M514.5,406.5V410.9M513.5,408.8h2M515.5,407.4V410.3M514.5,409.6h2M516.5,407.5V411.2M517.5,407.1V411.3M516.5,409.4h2M518.5,405.7V409.1M517.5,407.3h2M519.5,405.3V408.0M520.5,405.1V408.4M521.5,406.0V408.5M520.5,408.2h2M522.5,406.7V409.2M521.5,408.7h2M523.5,406.4V410.8M524.5,410.2V413.5M523.5,410.5h2M525.5,411.5V415.1M526.5,409.1V413.0M527.5,407.7V410.2M526.5,407.8h2M528.5,406.5V409.3M529.5,406.0V410.6M530.5,404.9V409.1M531.5,405.5V409.6M532.5,407.0V409.3M531.5,408.2h2M533.5,406.9V410.6M532.5,407.5h2M534.5,407.2V409.4M535.5,407.5V409.1M536.5,406.4V410.6M535.5,409.3h2M537.5,406.4V410.8M536.5,408.4h2M538.5,408.2V411.2M539.5,406.3V409.4M538.5,409.0h2M540.5,407.3V409.8M541.5,406.7V409.6M540.5,408.1h2M542.5,405.1V406.6M543.5,399.2V402.7M542.5,400.1h2M544.5,397.0V398.6M543.5,397.8h2M545.5,397.4V401.4M544.5,400.0h2M546.5,399.4V403.0M547.5,399.9V403.2M548.5,399.6V403.8M547.5,401.3h2M549.5,400.5V405.0M550.5,402.2V404.8M549.5,401.9h2M551.5,402.2V406.1M552.5,401.1V404.1M551.5,402.2h2M553.5,402.4V404.3M554.5,402.2V405.1M555.5,385.1V390.3M556.5,385.3V389.5M555.5,386.3h2M557.5,384.6V387.9M556.5,386.6h2M558.5,385.8V388.7M557.5,387.2h2M559.5,387.2V390.3M558.5,387.9h2M560.5,386.8V390.0M559.5,387.4h2M561.5,388.6V391.2M560.5,389.1h2M562.5,389.0V392.9M561.5,391.0h2M563.5,388.2V391.5M564.5,387.7V391.8M565.5,388.6V391.1M566.5,387.0V390.1M565.5,388.9h2M567.5,385.3V388.2M566.5,386.8h2M568.5,385.7V389.1M567.5,387.9h2M569.5,386.0V388.6M570.5,387.4V390.9M571.5,385.7V388.2M572.5,383.4V387.6M571.5,386.5h2M573.5,386.0V388.5M574.5,387.2V391.8M573.5,391.1h2M575.5,390.8V394.8M574.5,393.7h2M576.5,389.2V392.7M577.5,385.7V389.0M578.5,385.6V389.3M577.5,386.9h2M579.5,385.1V387.4M578.5,387.3h2M580.5,385.4V386.9M581.5,383.6V387.4M580.5,384.5h2M582.5,383.9V387.8M583.5,382.0V385.6M582.5,384.7h2M584.5,381.7V384.9M585.5,382.0V384.2M584.5,383.2h2M586.5,372.4V377.1M585.5,375.1h2M587.5,362.3V366.0M586.5,364.4h2M588.5,361.7V364.4M587.5,362.1h2M589.5,362.0V364.2M590.5,361.5V364.6M591.5,361.1V364.8M592.5,362.1V366.5M591.5,364.3h2M593.5,363.0V365.1M594.5,362.1V365.0M593.5,364.9h2M595.5,362.3V365.9M594.5,364.1h2M596.5,361.7V366.2M597.5,363.4V366.6M596.5,365.7h2M598.5,369.7V371.7M599.5,372.6V375.3M600.5,372.9V375.9M599.5,376.0h2M601.5,372.6V377.2M600.5,375.7h2M602.5,374.1V376.1M603.5,373.5V376.2M604.5,373.8V378.2M605.5,373.8V377.2M606.5,374.0V377.3M607.5,374.2V377.5M606.5,374.9h2M608.5,374.9V377.7M607.5,375.9h2M609.5,376.1V378.5M608.5,376.2h2M610.5,376.0V378.8M611.5,376.5V379.9M612.5,375.7V379.4M613.5,376.2V380.0M614.5,376.2V379.5M613.5,379.8h2M615.5,377.6V381.3M614.5,378.8h2M616.5,378.0V381.5M617.5,377.4V380.8M616.5,378.2h2M618.5,376.0V379.5M619.5,375.4V378.1M620.5,374.7V377.2M619.5,376.9h2M621.5,372.7V376.4M620.5,374.4h2M622.5,373.9V375.2M623.5,372.5V377.3M624.5,372.0V376.0M623.5,374.4h2M625.5,372.0V374.6M624.5,372.9h2M626.5,370.1V373.2M625.5,371.1h2M627.5,367.9V370.2M628.5,367.8V372.3M627.5,370.0h2M629.5,371.8V375.2M630.5,370.6V376.0M631.5,371.1V376.2M630.5,373.5h2M632.5,371.9V375.9M633.5,372.1V376.7M632.5,374.1h2M634.5,371.6V374.9M633.5,375.4h2M635.5,371.8V375.1M634.5,375.5h2M636.5,372.2V376.0M637.5,371.8V376.4M636.5,372.7h2M638.5,371.6V376.6M639.5,372.6V375.3M638.5,372.6h2M640.5,372.0V375.4M641.5,372.8V375.7M642.5,372.9V375.5M643.5,373.0V374.8M642.5,373.9h2M644.5,371.1V374.7M643.5,373.9h2M645.5,371.8V374.6M644.5,374.1h2M646.5,371.5V373.4M645.5,371.9h2M647.5,369.7V373.9M648.5,369.6V372.0M649.5,372.4V374.4M648.5,374.9h2M650.5,374.5V377.1M651.5,373.4V377.6M650.5,377.0h2M652.5,372.2V375.8M653.5,371.7V374.2M654.5,371.1V374.9M655.5,373.0V375.2M654.5,372.2h2M656.5,371.2V374.6M655.5,374.9h2M657.5,370.4V375.8M656.5,374.4h2M658.5,371.6V374.6M659.5,370.7V372.5M660.5,369.2V373.9M661.5,370.4V373.3M660.5,371.2h2M662.5,369.4V372.7M661.5,371.6h2M663.5,371.6V373.4M662.5,371.1h2M664.5,370.7V374.1M665.5,369.9V373.9M666.5,371.3V373.0M665.5,371.4h2M667.5,369.6V374.4M668.5,370.7V372.9M669.5,372.4V375.9M670.5,374.0V377.5M671.5,371.2V373.7M672.5,364.1V367.4M673.5,362.4V364.4M672.5,362.8h2M674.5,360.1V363.3M673.5,361.4h2M675.5,360.6V364.6M676.5,362.0V364.5M675.5,363.0h2M677.5,363.5V365.2M678.5,363.3V366.2M679.5,363.9V366.4M680.5,363.6V366.9M681.5,364.2V367.1M682.5,352.8V356.5M683.5,351.0V354.4M684.5,350.6V354.5M683.5,354.0h2M685.5,352.1V354.9M684.5,354.4h2M686.5,351.9V353.8M687.5,351.8V354.9M686.5,354.4h2M688.5,351.4V354.5M687.5,353.1h2M689.5,352.0V354.9M690.5,351.5V353.8M689.5,353.0h2M691.5,351.1V355.8M690.5,352.9h2M692.5,348.9V351.9M691.5,350.6h2M693.5,345.3V348.7M694.5,344.3V347.4M695.5,342.8V347.1M694.5,344.8h2M696.5,343.8V347.9M695.5,345.3h2M697.5,346.0V349.4M698.5,345.0V350.4M699.5,346.5V350.9M700.5,347.5V350.7M701.5,347.5V349.8M702.5,346.8V349.0M701.5,348.2h2M703.5,345.0V349.5M704.5,345.2V347.8M705.5,346.7V350.3M706.5,346.0V348.1M707.5,344.6V349.6M708.5,346.4V349.3M707.5,348.3h2M709.5,345.6V350.2M710.5,346.8V351.3M711.5,345.3V348.3M710.5,345.5h2M712.5,340.5V343.7M711.5,341.9h2M713.5,337.0V341.3M714.5,336.7V339.0M713.5,338.3h2M715.5,334.2V339.0M714.5,337.6h2M716.5,331.6V335.4M717.5,330.3V334.9M718.5,332.0V334.4M719.5,332.7V334.9M720.5,333.6V336.9M721.5,335.2V337.3M722.5,336.2V338.6M721.5,336.0h2M723.5,335.8V338.8M724.5,333.1V336.5M723.5,334.2h2M725.5,331.4V335.7M724.5,332.8h2M726.5,330.0V334.3M727.5,329.1V333.7M728.5,329.0V331.8M729.5,325.3V327.9M730.5,322.7V324.2M731.5,321.7V325.0M732.5,321.0V324.5M733.5,320.6V324.3M732.5,321.5h2M734.5,322.0V326.3M735.5,323.9V325.2M734.5,325.1h2M736.5,324.0V326.3M735.5,325.7h2M737.5,324.3V327.9M738.5,325.4V329.3M737.5,328.1h2M739.5,326.9V328.3M738.5,326.2h2M740.5,327.3V329.3M739.5,326.7h2M741.5,325.5V330.6M740.5,328.4h2M742.5,326.7V330.7M741.5,327.4h2M743.5,326.7V330.2M744.5,326.0V328.9M745.5,326.5V329.9M746.5,326.4V329.3M745.5,327.8h2M747.5,326.8V329.9M746.5,327.4h2M748.5,324.7V328.5M747.5,328.1h2M749.5,324.5V327.4M750.5,322.7V327.7M749.5,325.9h2M751.5,322.7V326.1M752.5,321.7V326.4M753.5,322.2V325.8M752.5,324.6h2M754.5,321.3V325.8M753.5,323.6h2M755.5,321.7V323.7M756.5,319.8V322.8M755.5,320.6h2M757.5,315.9V319.6M758.5,315.8V318.2M759.5,312.4V316.3M760.5,314.1V318.5M761.5,315.7V318.6M762.5,316.0V319.6M763.5,315.9V319.0M762.5,317.4h2M764.5,308.4V312.3M765.5,306.0V309.3M764.5,308.1h2M766.5,303.1V307.7M765.5,306.6h2M767.5,301.2V303.5M768.5,297.2V300.5M769.5,294.5V299.0M768.5,297.1h2M770.5,296.2V298.0M771.5,295.3V299.8M770.5,296.7h2M772.5,296.5V299.6M771.5,297.5h2M773.5,296.3V299.2M772.5,299.5h2M774.5,296.2V299.9M773.5,297.7h2M775.5,298.8V301.8M776.5,300.4V303.1M777.5,302.9V305.9M778.5,302.4V305.5M779.5,301.1V304.9M778.5,302.3h2M780.5,300.0V302.7M781.5,297.8V301.5M782.5,297.1V299.1M783.5,296.3V299.8M782.5,296.9h2M784.5,295.3V299.2M785.5,295.0V298.0M784.5,297.7h2M786.5,296.4V299.9M787.5,296.4V298.7M786.5,298.1h2M788.5,296.8V299.5M787.5,298.4h2M789.5,298.5V302.1M788.5,298.9h2M790.5,302.6V306.7M791.5,301.8V304.9M790.5,302.8h2M792.5,302.5V305.5M791.5,305.1h2M793.5,302.3V305.6M792.5,303.7h2M794.5,302.1V305.2M793.5,303.1h2M795.5,302.1V304.4M794.5,302.7h2M796.5,300.9V303.9M795.5,303.8h2M797.5,300.7V304.0M796.5,303.5h2M798.5,299.2V303.3M799.5,298.3V302.1M798.5,300.1h2M800.5,297.3V300.6M801.5,295.3V299.3M802.5,294.0V295.6M801.5,293.6h2M803.5,291.3V295.6M802.5,292.7h2M804.5,289.8V294.8M805.5,289.3V293.6M804.5,291.1h2M806.5,289.0V293.3M807.5,287.8V292.8M806.5,289.6h2M808.5,288.7V293.2M809.5,291.2V294.9M810.5,292.6V296.1M811.5,298.5V299.9M810.5,299.5h2M812.5,302.6V305.1" stroke="#1f1fd6" stroke-width="1" fill="none"/>
<polyline points="815.4,307.9 816.2,313.5 818.6,311.1 820.2,307.9 822.1,303.0 823.7,306.3 825.0,319.1 826.6,306.3 829.0,304.7 831.4,305.5 833.8,307.1 836.3,304.7 837.1,296.6 838.7,291.0 841.1,289.4 842.7,295.0" fill="none" stroke="#e82020" stroke-width="1.2" stroke-linejoin="miter"/>
<path d="M815.5,307.1V310.9M816.5,311.4V314.1M815.5,314.4h2M817.5,310.1V313.2M816.5,312.3h2M818.5,309.9V313.0M819.5,308.8V310.3M820.5,306.1V307.8M821.5,303.3V307.3M822.5,303.1V305.8M821.5,304.8h2M823.5,303.7V308.1M822.5,304.5h2M824.5,311.8V315.0M823.5,312.8h2M825.5,314.2V316.7M826.5,305.9V308.2M827.5,304.8V307.7M828.5,302.4V305.6M829.5,303.5V307.3M828.5,305.5h2M830.5,304.3V306.8M831.5,304.5V306.7M832.5,304.2V306.9M831.5,305.4h2M833.5,305.7V309.3M834.5,303.7V308.5M835.5,304.1V307.6M834.5,304.1h2M836.5,301.0V304.1M837.5,294.6V295.8M838.5,290.3V293.0M837.5,292.0h2M839.5,287.9V291.4M840.5,288.2V292.1M841.5,289.8V291.7M842.5,293.6V296.8M841.5,293.4h2" stroke="#e82020" stroke-width="1" fill="none"/>
<polyline points="845.1,294.2 845.9,286.2 848.3,283.0 850.7,280.5 853.1,282.1 855.5,284.6 855.5,289.4 858.8,284.6 860.4,282.1 861.2,273.3 863.6,275.7 866.0,278.9 868.4,281.3 870.0,284.6 871.6,288.6 874.8,288.6 877.3,287.0 878.9,286.2" fill="none" stroke="#1f1fd6" stroke-width="1.2" stroke-linejoin="miter"/>
<path d="M845.5,288.6V292.6M846.5,283.2V287.7M847.5,283.4V286.5M846.5,283.1h2M848.5,282.2V283.4M849.5,280.4V282.4M848.5,282.8h2M850.5,278.8V283.3M849.5,279.5h2M851.5,279.9V282.0M850.5,280.1h2M852.5,279.7V282.6M851.5,281.8h2M853.5,281.2V283.4M854.5,281.9V285.0M853.5,282.2h2M855.5,282.7V285.5M854.5,283.1h2M856.5,285.4V289.8M855.5,288.1h2M857.5,283.8V287.3M856.5,287.1h2M858.5,283.7V287.2M859.5,282.9V284.7M858.5,284.3h2M860.5,278.7V283.1M861.5,272.7V275.0M862.5,272.3V275.4M863.5,273.4V278.1M862.5,275.9h2M864.5,274.2V279.5M865.5,275.7V281.0M866.5,277.4V282.1M865.5,279.1h2M867.5,278.6V281.2M868.5,280.9V283.5M867.5,281.0h2M869.5,281.7V284.5M868.5,284.6h2M870.5,283.1V287.0M869.5,286.4h2M871.5,287.4V290.8M870.5,288.5h2M872.5,287.3V289.1M871.5,287.1h2M873.5,287.3V289.7M874.5,286.6V289.3M875.5,287.1V289.8M876.5,285.0V290.2M875.5,287.0h2M877.5,285.5V288.1M878.5,284.8V288.5M877.5,287.2h2" stroke="#1f1fd6" stroke-width="1" fill="none"/>
<polyline points="880.5,288.6 882.9,292.6 886.1,293.4 889.3,295.0 892.5,297.4 895.7,299.0 900.0,294.7 903.6,294.0 905.8,295.5 908.0,300.5 910.1,298.4 912.3,297.6 914.5,291.1 916.6,290.4 918.1,294.7 918.8,306.3 920.3,319.4 921.4,341.1 922.4,329.5 923.9,315.0 925.3,323.7 926.8,312.1 929.0,309.2 930.4,307.8 931.8,289.7 933.3,302.0 934.7,295.5 936.9,299.8 939.1,294.0 942.0,293.3 944.2,291.1" fill="none" stroke="#e82020" stroke-width="1.2" stroke-linejoin="miter"/>
<path d="M880.5,285.9V289.6M881.5,289.4V290.8M880.5,289.3h2M882.5,289.8V293.7M883.5,290.0V293.4M882.5,291.4h2M884.5,291.4V295.4M885.5,291.5V295.7M884.5,292.1h2M886.5,291.6V294.2M885.5,292.2h2M887.5,293.2V294.7M888.5,293.8V296.5M889.5,293.9V295.9M890.5,293.7V298.4M891.5,294.8V299.1M892.5,294.7V298.6M893.5,295.9V299.5M892.5,297.8h2M894.5,297.3V300.3M895.5,297.2V299.5M894.5,299.2h2M896.5,296.1V301.0M897.5,296.0V298.7M898.5,293.9V297.6M899.5,293.6V296.6M898.5,294.8h2M900.5,291.8V295.2M899.5,293.3h2M901.5,292.3V295.3M900.5,294.2h2M902.5,292.3V296.5M901.5,293.6h2M903.5,292.7V296.6M902.5,292.6h2M904.5,292.1V296.2M903.5,293.5h2M905.5,292.7V297.5M904.5,295.8h2M906.5,296.1V298.6M907.5,298.7V302.0M906.5,298.3h2M908.5,297.7V300.8M907.5,300.5h2M909.5,297.4V301.6M910.5,297.3V298.9M911.5,296.3V299.1M912.5,296.0V299.0M911.5,298.3h2M913.5,291.4V296.0M912.5,294.7h2M914.5,288.5V293.4M913.5,291.1h2M915.5,289.9V292.5M916.5,287.9V291.5M917.5,291.7V293.9M918.5,299.1V302.6M917.5,301.9h2M919.5,310.2V314.0M918.5,311.2h2M920.5,322.5V325.7M919.5,323.8h2M921.5,338.6V341.3M920.5,341.4h2M922.5,326.6V329.3M923.5,317.0V320.8M924.5,316.8V321.2M925.5,320.7V324.1M924.5,321.9h2M926.5,313.1V316.4M925.5,314.0h2M927.5,308.7V313.5M928.5,307.4V311.2M929.5,307.6V309.9M928.5,309.6h2M930.5,303.9V307.7M929.5,305.4h2M931.5,292.8V295.5M932.5,294.7V296.5M933.5,300.1V303.6M932.5,301.0h2M934.5,295.5V297.6M933.5,295.8h2M935.5,294.9V297.6M936.5,296.7V300.3M935.5,297.9h2M937.5,297.5V300.5M938.5,295.0V297.1M939.5,292.7V294.5M938.5,293.5h2M940.5,290.9V295.0M941.5,290.9V295.2M940.5,294.3h2M942.5,292.1V294.6M941.5,291.6h2M943.5,290.4V292.7" stroke="#e82020" stroke-width="1" fill="none"/>
<polyline points="946.3,287.5 949.2,288.2 951.4,292.6 953.6,294.0 955.7,292.6 957.9,290.4 960.1,285.3 962.2,283.9 964.4,287.5 966.6,288.2 969.5,286.8 972.4,286.1 975.3,291.1 977.4,288.2 981.1,289.0 985.4,289.7 987.6,296.2 989.8,293.3 991.9,288.2 995.5,288.2 998.4,287.2 1008.6,287.2 1008.6,276.6 1011.5,273.0 1014.4,269.4 1015.4,246.3 1018.0,244.8 1022.0,246.0 1025.0,244.0 1028.0,244.8 1030.0,231.1 1033.0,234.0 1036.0,233.0 1038.0,249.4 1040.0,240.0 1045.0,229.5 1050.0,235.6 1054.0,234.0 1058.0,235.6 1062.0,246.3 1065.0,249.4 1068.0,248.0" fill="none" stroke="#1f1fd6" stroke-width="1.2" stroke-linejoin="miter"/>
<path d="M946.5,285.7V290.1M947.5,285.5V289.8M946.5,288.6h2M948.5,286.0V288.9M949.5,287.3V290.5M950.5,288.7V292.6M951.5,290.3V293.4M950.5,291.3h2M952.5,292.4V296.0M951.5,293.1h2M953.5,292.4V295.7M952.5,294.8h2M954.5,292.1V295.8M955.5,292.2V294.5M954.5,293.9h2M956.5,291.1V292.9M957.5,288.9V292.8M956.5,290.9h2M958.5,288.0V290.6M957.5,289.5h2M959.5,285.9V287.5M958.5,286.8h2M960.5,283.2V285.5M961.5,281.9V285.7M960.5,285.3h2M962.5,281.6V285.3M963.5,283.6V288.7M962.5,284.9h2M964.5,286.7V288.6M965.5,285.3V289.4M964.5,287.4h2M966.5,287.1V290.2M967.5,285.5V289.3M966.5,287.7h2M968.5,285.9V288.8M969.5,284.7V288.1M970.5,285.7V287.2M969.5,286.1h2M971.5,285.7V287.0M970.5,287.6h2M972.5,283.8V286.8M971.5,285.9h2M973.5,286.8V288.8M974.5,287.3V291.1M973.5,288.5h2M975.5,290.3V293.1M974.5,291.5h2M976.5,287.1V290.1M975.5,288.9h2M977.5,286.0V290.4M976.5,288.1h2M978.5,287.1V290.0M979.5,287.6V291.0M980.5,287.0V291.6M981.5,288.2V291.8M980.5,290.0h2M982.5,288.4V290.4M981.5,290.2h2M983.5,287.3V290.4M984.5,287.1V291.2M983.5,288.9h2M985.5,288.8V291.5M986.5,291.1V295.3M985.5,292.2h2M987.5,293.7V297.2M986.5,294.6h2M988.5,294.4V296.5M989.5,292.3V295.5M988.5,292.2h2M990.5,289.5V292.9M989.5,291.2h2M991.5,288.1V289.8M990.5,288.6h2M992.5,287.4V288.8M991.5,286.8h2M993.5,285.7V289.5M992.5,288.3h2M994.5,287.6V288.9M995.5,286.4V289.8M994.5,289.0h2M996.5,286.2V290.2M997.5,285.0V289.7M998.5,285.6V288.9M999.5,285.5V289.6M1000.5,286.6V289.4M1001.5,285.3V289.8M1000.5,287.1h2M1002.5,285.8V289.9M1001.5,287.4h2M1003.5,286.4V289.4M1002.5,287.9h2M1004.5,286.0V289.7M1003.5,286.4h2M1005.5,285.0V289.7M1006.5,286.1V287.9M1007.5,285.0V287.8M1008.5,285.5V287.8M1007.5,286.7h2M1009.5,274.7V278.0M1010.5,273.5V275.8M1009.5,274.8h2M1011.5,272.2V274.3M1010.5,272.9h2M1012.5,270.3V273.6M1013.5,267.9V273.1M1014.5,266.1V268.2M1013.5,267.5h2M1015.5,244.3V247.5M1016.5,244.4V246.2M1015.5,244.8h2M1017.5,242.9V247.5M1016.5,244.3h2M1018.5,243.9V247.3M1019.5,244.1V246.0M1020.5,242.8V247.7M1019.5,246.3h2M1021.5,243.6V247.5M1020.5,245.9h2M1022.5,243.6V246.9M1023.5,244.2V247.7M1022.5,244.2h2M1024.5,241.6V247.0M1025.5,241.7V246.6M1026.5,242.6V245.1M1027.5,242.2V247.1M1026.5,243.4h2M1028.5,239.2V243.0M1029.5,231.7V236.1M1030.5,229.6V233.7M1029.5,232.0h2M1031.5,231.9V235.1M1032.5,231.2V235.1M1031.5,233.4h2M1033.5,231.8V235.6M1032.5,232.3h2M1034.5,232.1V234.6M1033.5,232.7h2M1035.5,231.7V235.3M1036.5,235.0V237.6M1037.5,243.4V247.5M1038.5,245.7V248.3M1037.5,247.5h2M1039.5,241.7V244.4M1040.5,236.9V240.8M1041.5,234.1V239.2M1042.5,233.2V235.3M1043.5,230.7V235.1M1044.5,229.2V231.1M1045.5,228.2V232.9M1046.5,228.9V233.6M1047.5,231.0V235.1M1046.5,231.1h2M1048.5,232.5V235.1M1049.5,233.6V236.1M1050.5,234.7V236.6M1049.5,234.3h2M1051.5,233.1V236.5M1052.5,233.3V237.3M1051.5,234.7h2M1053.5,233.2V234.7M1052.5,235.4h2M1054.5,233.0V235.8M1055.5,233.5V236.3M1054.5,234.1h2M1056.5,233.8V237.4M1057.5,233.3V237.3M1058.5,234.7V237.6M1057.5,237.7h2M1059.5,237.2V242.4M1060.5,241.4V244.1M1061.5,243.1V245.8M1062.5,245.1V247.9M1063.5,246.5V248.5M1064.5,247.8V249.9M1063.5,249.2h2M1065.5,247.9V251.2M1066.5,245.9V251.2M1067.5,247.2V250.6M1066.5,248.5h2" stroke="#1f1fd6" stroke-width="1" fill="none"/>
<polyline points="1070.0,251.0 1073.0,256.0 1076.0,258.0 1079.0,250.0 1083.0,244.8 1086.0,252.0 1090.0,256.0 1094.0,250.0 1097.0,258.0 1100.0,252.0" fill="none" stroke="#e82020" stroke-width="1.2" stroke-linejoin="miter"/>
<path d="M1070.5,251.2V252.6M1071.5,252.7V255.6M1072.5,254.7V257.5M1071.5,256.3h2M1073.5,254.0V258.0M1072.5,254.9h2M1074.5,254.9V257.6M1075.5,255.0V259.7M1074.5,258.3h2M1076.5,254.6V257.9M1077.5,252.2V255.5M1078.5,250.2V252.5M1079.5,248.0V251.6M1078.5,248.4h2M1080.5,247.5V250.8M1081.5,244.0V248.6M1080.5,245.7h2M1082.5,244.8V247.4M1083.5,243.3V247.2M1082.5,245.2h2M1084.5,247.6V249.0M1083.5,248.2h2M1085.5,249.5V253.5M1084.5,251.8h2M1086.5,250.8V253.2M1085.5,252.8h2M1087.5,251.0V254.1M1088.5,253.5V256.6M1089.5,253.3V256.6M1088.5,256.9h2M1090.5,252.6V257.9M1091.5,253.1V255.1M1092.5,251.6V253.4M1091.5,253.4h2M1093.5,249.4V251.4M1092.5,249.9h2M1094.5,249.8V253.3M1095.5,253.3V255.7M1094.5,253.8h2M1096.5,254.3V257.8M1097.5,255.9V258.4M1098.5,254.5V256.8M1099.5,250.9V255.7" stroke="#e82020" stroke-width="1" fill="none"/>
<polyline points="1100.0,252.0 1103.0,244.8 1107.0,243.3" fill="none" stroke="#222" stroke-width="1.2" stroke-linejoin="miter"/>
<path d="M1100.5,249.8V251.8M1099.5,250.1h2M1101.5,246.6V249.1M1102.5,244.5V246.6M1101.5,247.3h2M1103.5,242.2V247.1M1102.5,246.1h2M1104.5,243.3V246.4M1105.5,242.9V244.4M1104.5,242.6h2M1106.5,241.1V245.4M1105.5,242.3h2" stroke="#222" stroke-width="1" fill="none"/>
<polyline points="1107.0,243.3 1110.0,231.0 1113.0,233.0 1115.0,231.0 1118.0,228.0 1122.0,234.0 1125.0,236.0 1127.0,241.8 1130.0,252.4" fill="none" stroke="#1f1fd6" stroke-width="1.2" stroke-linejoin="miter"/>
<path d="M1107.5,239.3V242.1M1106.5,241.5h2M1108.5,235.2V239.5M1109.5,232.2V234.2M1108.5,233.0h2M1110.5,230.8V233.8M1111.5,229.6V233.6M1112.5,230.2V235.1M1113.5,231.5V233.8M1112.5,233.3h2M1114.5,229.9V234.3M1113.5,231.3h2M1115.5,228.0V233.2M1116.5,227.0V232.1M1115.5,229.9h2M1117.5,227.9V230.6M1118.5,227.1V229.6M1119.5,229.6V231.8M1118.5,230.0h2M1120.5,229.4V234.0M1121.5,231.7V234.8M1120.5,234.1h2M1122.5,232.5V235.8M1121.5,234.2h2M1123.5,234.4V235.8M1122.5,234.8h2M1124.5,234.9V238.1M1125.5,235.0V239.2M1124.5,236.8h2M1126.5,237.9V242.2M1127.5,241.6V244.2M1126.5,243.4h2M1128.5,244.7V249.8M1129.5,249.5V251.2" stroke="#1f1fd6" stroke-width="1" fill="none"/>
<path d="M11.0,604h1v-1.0h-1zM13.2,604h1v-0.5h-1zM15.4,604h1v-1.0h-1zM16.5,604h1v-2.0h-1zM18.7,604h1v-2.0h-1zM19.8,604h1v-0.5h-1zM24.2,604h1v-2.0h-1zM25.3,604h1v-1.0h-1zM26.4,604h1v-1.0h-1zM27.5,604h1v-1.0h-1zM33.0,604h1v-1.0h-1zM36.3,604h1v-0.5h-1zM45.1,604h1v-1.0h-1zM47.3,604h1v-1.0h-1zM51.7,604h1v-0.5h-1zM52.8,604h1v-2.0h-1zM53.9,604h1v-1.5h-1zM55.0,604h1v-3.0h-1zM58.3,604h1v-1.5h-1zM63.8,604h1v-0.5h-1zM68.2,604h1v-1.0h-1zM72.6,604h1v-2.0h-1zM80.3,604h1v-1.0h-1zM81.4,604h1v-1.0h-1zM85.8,604h1v-2.0h-1zM91.3,604h1v-2.0h-1zM95.7,604h1v-0.5h-1zM96.8,604h1v-1.0h-1zM99.0,604h1v-1.0h-1zM100.1,604h1v-0.5h-1zM101.2,604h1v-1.5h-1zM103.4,604h1v-1.0h-1zM108.9,604h1v-2.0h-1zM114.4,604h1v-1.0h-1zM116.6,604h1v-0.5h-1zM117.7,604h1v-1.0h-1zM122.1,604h1v-1.0h-1zM124.3,604h1v-1.0h-1zM128.7,604h1v-3.0h-1zM133.1,604h1v-0.5h-1zM139.7,604h1v-1.5h-1zM140.8,604h1v-0.5h-1zM143.0,604h1v-0.5h-1zM145.2,604h1v-1.5h-1zM148.5,604h1v-1.5h-1zM154.0,604h1v-1.0h-1zM157.3,604h1v-3.0h-1zM159.5,604h1v-0.5h-1zM162.8,604h1v-1.5h-1zM169.4,604h1v-1.0h-1zM176.0,604h1v-1.5h-1zM178.2,604h1v-0.5h-1zM183.7,604h1v-1.5h-1zM184.8,604h1v-2.0h-1zM188.1,604h1v-1.0h-1zM189.2,604h1v-1.0h-1zM190.3,604h1v-3.0h-1zM192.5,604h1v-3.0h-1zM196.9,604h1v-0.5h-1zM200.2,604h1v-1.0h-1zM204.6,604h1v-1.0h-1zM205.7,604h1v-1.0h-1zM207.9,604h1v-2.0h-1zM210.1,604h1v-1.5h-1zM217.8,604h1v-1.0h-1zM220.0,604h1v-3.0h-1zM224.4,604h1v-1.0h-1zM228.8,604h1v-3.0h-1zM231.0,604h1v-0.5h-1zM232.1,604h1v-1.0h-1zM233.2,604h1v-0.5h-1zM251.9,604h1v-1.0h-1zM254.1,604h1v-0.5h-1zM256.3,604h1v-1.0h-1zM258.5,604h1v-1.0h-1zM261.8,604h1v-1.5h-1zM262.9,604h1v-1.0h-1zM265.1,604h1v-0.5h-1zM270.6,604h1v-2.0h-1zM276.1,604h1v-1.5h-1zM277.2,604h1v-3.0h-1zM279.4,604h1v-1.5h-1zM281.6,604h1v-0.5h-1zM282.7,604h1v-1.0h-1zM284.9,604h1v-1.0h-1zM286.0,604h1v-1.0h-1zM287.1,604h1v-1.0h-1zM297.0,604h1v-1.0h-1zM298.1,604h1v-1.0h-1zM300.3,604h1v-0.5h-1zM303.6,604h1v-1.0h-1zM304.7,604h1v-0.5h-1zM310.2,604h1v-1.0h-1zM311.3,604h1v-1.0h-1zM314.6,604h1v-1.0h-1zM315.7,604h1v-1.0h-1zM319.0,604h1v-3.0h-1zM321.2,604h1v-1.5h-1zM324.5,604h1v-0.5h-1zM327.8,604h1v-3.0h-1zM328.9,604h1v-3.0h-1zM330.0,604h1v-2.0h-1zM335.5,604h1v-1.0h-1zM344.3,604h1v-1.0h-1zM345.4,604h1v-1.0h-1zM347.6,604h1v-2.0h-1zM350.9,604h1v-1.0h-1zM353.1,604h1v-1.0h-1zM354.2,604h1v-3.0h-1zM355.3,604h1v-1.5h-1zM359.7,604h1v-1.0h-1zM360.8,604h1v-1.0h-1zM361.9,604h1v-2.0h-1zM363.0,604h1v-1.0h-1zM365.2,604h1v-0.5h-1zM366.3,604h1v-0.5h-1zM367.4,604h1v-0.5h-1zM369.6,604h1v-1.0h-1zM370.7,604h1v-1.0h-1zM376.2,604h1v-3.0h-1zM377.3,604h1v-1.0h-1zM378.4,604h1v-2.0h-1zM381.7,604h1v-0.5h-1zM388.3,604h1v-0.5h-1zM389.4,604h1v-1.5h-1zM393.8,604h1v-0.5h-1zM398.2,604h1v-0.5h-1zM403.7,604h1v-3.0h-1zM404.8,604h1v-0.5h-1zM407.0,604h1v-1.0h-1zM408.1,604h1v-3.0h-1zM416.9,604h1v-1.0h-1zM422.4,604h1v-3.0h-1zM423.5,604h1v-1.0h-1zM425.7,604h1v-1.0h-1zM427.9,604h1v-1.0h-1zM431.2,604h1v-1.0h-1zM432.3,604h1v-0.5h-1zM434.5,604h1v-3.0h-1zM435.6,604h1v-3.0h-1zM441.1,604h1v-0.5h-1zM442.2,604h1v-1.0h-1zM444.4,604h1v-1.0h-1zM447.7,604h1v-3.0h-1zM449.9,604h1v-3.0h-1zM456.5,604h1v-1.5h-1zM457.6,604h1v-1.5h-1zM459.8,604h1v-1.0h-1zM463.1,604h1v-1.5h-1zM464.2,604h1v-2.0h-1zM469.7,604h1v-0.5h-1zM470.8,604h1v-0.5h-1zM473.0,604h1v-1.0h-1zM474.1,604h1v-1.0h-1zM476.3,604h1v-1.5h-1zM479.6,604h1v-2.0h-1zM485.1,604h1v-2.0h-1zM489.5,604h1v-0.5h-1zM492.8,604h1v-2.0h-1zM495.0,604h1v-1.0h-1zM497.2,604h1v-3.0h-1zM500.5,604h1v-1.0h-1zM501.6,604h1v-3.0h-1zM509.3,604h1v-1.0h-1zM511.5,604h1v-1.0h-1zM514.8,604h1v-0.5h-1zM522.5,604h1v-1.0h-1zM530.2,604h1v-1.0h-1zM534.6,604h1v-0.5h-1zM535.7,604h1v-2.0h-1zM541.2,604h1v-2.0h-1zM548.9,604h1v-1.0h-1zM558.8,604h1v-1.0h-1zM559.9,604h1v-0.5h-1zM562.1,604h1v-1.0h-1zM567.6,604h1v-1.0h-1zM572.0,604h1v-0.5h-1zM573.1,604h1v-1.0h-1zM575.3,604h1v-1.5h-1zM579.7,604h1v-1.0h-1zM580.8,604h1v-2.0h-1zM583.0,604h1v-0.5h-1zM584.1,604h1v-2.0h-1zM585.2,604h1v-1.0h-1zM588.5,604h1v-0.5h-1zM594.0,604h1v-1.0h-1zM597.3,604h1v-1.0h-1zM598.4,604h1v-1.0h-1zM599.5,604h1v-1.0h-1zM600.6,604h1v-1.0h-1zM601.7,604h1v-3.0h-1zM607.2,604h1v-1.0h-1zM609.4,604h1v-0.5h-1zM611.6,604h1v-0.5h-1zM613.8,604h1v-3.0h-1zM620.4,604h1v-1.0h-1zM624.8,604h1v-2.0h-1zM629.2,604h1v-0.5h-1zM630.3,604h1v-1.5h-1zM638.0,604h1v-2.0h-1zM639.1,604h1v-3.0h-1zM640.2,604h1v-3.0h-1zM641.3,604h1v-1.5h-1zM645.7,604h1v-2.0h-1zM646.8,604h1v-0.5h-1zM650.1,604h1v-1.0h-1zM654.5,604h1v-0.5h-1zM655.6,604h1v-1.5h-1zM657.8,604h1v-0.5h-1zM658.9,604h1v-1.0h-1zM660.0,604h1v-3.0h-1zM663.3,604h1v-2.0h-1zM665.5,604h1v-3.0h-1zM666.6,604h1v-1.0h-1zM671.0,604h1v-1.5h-1zM677.6,604h1v-2.0h-1zM678.7,604h1v-0.5h-1zM682.0,604h1v-2.0h-1zM685.3,604h1v-0.5h-1zM686.4,604h1v-2.0h-1zM690.8,604h1v-2.0h-1zM694.1,604h1v-0.5h-1zM696.3,604h1v-1.0h-1zM700.7,604h1v-1.0h-1zM701.8,604h1v-1.0h-1zM702.9,604h1v-1.0h-1zM704.0,604h1v-2.0h-1zM705.1,604h1v-1.0h-1zM707.3,604h1v-0.5h-1zM710.6,604h1v-3.0h-1zM712.8,604h1v-3.0h-1zM715.0,604h1v-1.0h-1zM716.1,604h1v-0.5h-1zM717.2,604h1v-1.0h-1zM722.7,604h1v-0.5h-1zM723.8,604h1v-1.5h-1zM724.9,604h1v-1.5h-1zM727.1,604h1v-1.0h-1zM728.2,604h1v-1.0h-1zM734.8,604h1v-0.5h-1zM738.1,604h1v-0.5h-1zM741.4,604h1v-0.5h-1zM744.7,604h1v-1.0h-1zM748.0,604h1v-1.5h-1zM750.2,604h1v-1.5h-1zM756.8,604h1v-0.5h-1zM762.3,604h1v-0.5h-1zM763.4,604h1v-1.0h-1zM766.7,604h1v-1.5h-1zM768.9,604h1v-1.5h-1zM770.0,604h1v-1.0h-1zM772.2,604h1v-3.0h-1zM776.6,604h1v-0.5h-1zM779.9,604h1v-2.0h-1zM781.0,604h1v-1.0h-1zM786.5,604h1v-3.0h-1zM787.6,604h1v-1.0h-1zM788.7,604h1v-1.0h-1zM790.9,604h1v-1.0h-1zM794.2,604h1v-0.5h-1zM796.4,604h1v-2.0h-1zM800.8,604h1v-2.0h-1zM801.9,604h1v-1.0h-1zM807.4,604h1v-3.0h-1zM816.2,604h1v-1.5h-1zM818.4,604h1v-3.0h-1zM821.7,604h1v-1.0h-1zM822.8,604h1v-1.5h-1zM826.1,604h1v-2.0h-1zM829.4,604h1v-0.5h-1zM833.8,604h1v-3.0h-1zM834.9,604h1v-1.0h-1zM838.2,604h1v-1.5h-1zM840.4,604h1v-1.5h-1zM842.6,604h1v-3.0h-1zM843.7,604h1v-3.0h-1zM844.8,604h1v-1.0h-1zM847.0,604h1v-1.5h-1zM848.1,604h1v-1.0h-1zM851.4,604h1v-1.5h-1zM853.6,604h1v-1.0h-1zM854.7,604h1v-0.5h-1zM862.4,604h1v-2.0h-1zM867.9,604h1v-1.5h-1zM871.2,604h1v-0.5h-1zM872.3,604h1v-1.0h-1zM873.4,604h1v-1.5h-1zM876.7,604h1v-1.0h-1zM882.2,604h1v-1.0h-1zM884.4,604h1v-0.5h-1zM885.5,604h1v-1.5h-1zM886.6,604h1v-1.5h-1zM889.9,604h1v-1.0h-1zM891.0,604h1v-3.0h-1zM892.1,604h1v-0.5h-1zM894.3,604h1v-1.0h-1zM896.5,604h1v-1.0h-1zM900.9,604h1v-0.5h-1zM902.0,604h1v-1.5h-1zM908.6,604h1v-0.5h-1zM909.7,604h1v-0.5h-1zM911.9,604h1v-0.5h-1zM914.1,604h1v-1.0h-1zM915.2,604h1v-1.0h-1zM922.9,604h1v-0.5h-1zM931.7,604h1v-3.0h-1zM932.8,604h1v-0.5h-1zM933.9,604h1v-0.5h-1zM935.0,604h1v-1.0h-1zM937.2,604h1v-2.0h-1zM941.6,604h1v-1.0h-1zM942.7,604h1v-0.5h-1zM943.8,604h1v-1.0h-1zM946.0,604h1v-1.0h-1zM948.2,604h1v-2.0h-1zM949.3,604h1v-1.0h-1zM959.2,604h1v-0.5h-1zM963.6,604h1v-1.0h-1zM968.0,604h1v-0.5h-1zM969.1,604h1v-0.5h-1zM971.3,604h1v-1.0h-1zM973.5,604h1v-1.0h-1zM979.0,604h1v-1.5h-1zM980.1,604h1v-0.5h-1zM985.6,604h1v-1.0h-1zM986.7,604h1v-0.5h-1zM991.1,604h1v-1.0h-1zM993.3,604h1v-1.0h-1zM994.4,604h1v-1.5h-1zM996.6,604h1v-1.0h-1zM998.8,604h1v-1.5h-1zM1004.3,604h1v-0.5h-1zM1006.5,604h1v-0.5h-1zM1010.9,604h1v-0.5h-1zM1013.1,604h1v-2.0h-1zM1014.2,604h1v-1.0h-1zM1015.3,604h1v-0.5h-1zM1016.4,604h1v-3.0h-1zM1017.5,604h1v-1.0h-1zM1024.1,604h1v-1.0h-1zM1026.3,604h1v-1.0h-1zM1027.4,604h1v-0.5h-1zM1031.8,604h1v-1.5h-1zM1037.3,604h1v-0.5h-1zM1039.5,604h1v-2.0h-1zM1045.0,604h1v-3.0h-1zM1046.1,604h1v-0.5h-1zM1048.3,604h1v-1.0h-1zM1052.7,604h1v-3.0h-1zM1057.1,604h1v-3.0h-1zM1061.5,604h1v-1.0h-1zM1068.1,604h1v-1.0h-1zM1069.2,604h1v-0.5h-1zM1070.3,604h1v-0.5h-1zM1071.4,604h1v-1.0h-1zM1076.9,604h1v-0.5h-1zM1078.0,604h1v-2.0h-1zM1080.2,604h1v-2.0h-1zM1085.7,604h1v-2.0h-1zM1086.8,604h1v-1.0h-1zM1093.4,604h1v-1.0h-1zM1097.8,604h1v-0.5h-1zM1100.0,604h1v-2.0h-1zM1103.3,604h1v-2.0h-1zM1105.5,604h1v-2.0h-1zM1111.0,604h1v-0.5h-1zM1115.4,604h1v-1.0h-1zM1116.5,604h1v-1.0h-1zM1118.7,604h1v-3.0h-1zM1128.6,604h1v-1.0h-1z" fill="#6a6ae8"/>
<path d="M144.2,604h1.6v-4.5h-1.6zM148.1,604h1.6v-30.5h-1.6zM149.5,604h1.6v-40.3h-1.6zM151.0,604h1.6v-30.0h-1.6zM152.2,604h1.6v-9.0h-1.6zM685.0,604h1.6v-15.5h-1.6zM686.8,604h1.6v-44.2h-1.6zM688.3,604h1.6v-29.6h-1.6zM690.0,604h1.6v-14.0h-1.6zM691.5,604h1.6v-6.6h-1.6z" fill="#6a6ae8"/>
<line x1="66" y1="604.5" x2="66" y2="616" stroke="#808080" stroke-width="1.8"/>
<text x="67.8" y="612.9" font-family="Liberation Sans, Arial, sans-serif" font-size="8.4" fill="#333">28</text>
<line x1="134" y1="604.5" x2="134" y2="616" stroke="#808080" stroke-width="1.8"/>
<text x="135.8" y="612.9" font-family="Liberation Sans, Arial, sans-serif" font-size="8.4" fill="#333">5</text>
<line x1="207" y1="604.5" x2="207" y2="616" stroke="#808080" stroke-width="1.8"/>
<text x="208.8" y="612.9" font-family="Liberation Sans, Arial, sans-serif" font-size="8.4" fill="#333">12</text>
<line x1="280" y1="604.5" x2="280" y2="616" stroke="#808080" stroke-width="1.8"/>
<text x="281.8" y="612.9" font-family="Liberation Sans, Arial, sans-serif" font-size="8.4" fill="#333">19</text>
<line x1="352" y1="604.5" x2="352" y2="616" stroke="#808080" stroke-width="1.8"/>
<text x="353.8" y="612.9" font-family="Liberation Sans, Arial, sans-serif" font-size="8.4" fill="#333">26</text>
<line x1="409" y1="604.5" x2="409" y2="616" stroke="#808080" stroke-width="1.8"/>
<text x="410.8" y="612.9" font-family="Liberation Sans, Arial, sans-serif" font-size="8.4" fill="#333">2</text>
<line x1="482" y1="604.5" x2="482" y2="616" stroke="#808080" stroke-width="1.8"/>
<text x="483.8" y="612.9" font-family="Liberation Sans, Arial, sans-serif" font-size="8.4" fill="#333">9</text>
<line x1="555" y1="604.5" x2="555" y2="616" stroke="#808080" stroke-width="1.8"/>
<text x="556.8" y="612.9" font-family="Liberation Sans, Arial, sans-serif" font-size="8.4" fill="#333">16</text>
<line x1="627" y1="604.5" x2="627" y2="616" stroke="#808080" stroke-width="1.8"/>
<text x="628.8" y="612.9" font-family="Liberation Sans, Arial, sans-serif" font-size="8.4" fill="#333">23</text>
<line x1="699" y1="604.5" x2="699" y2="616" stroke="#808080" stroke-width="1.8"/>
<text x="700.8" y="612.9" font-family="Liberation Sans, Arial, sans-serif" font-size="8.4" fill="#333">30</text>
<line x1="772" y1="604.5" x2="772" y2="616" stroke="#808080" stroke-width="1.8"/>
<text x="773.8" y="612.9" font-family="Liberation Sans, Arial, sans-serif" font-size="8.4" fill="#333">7</text>
<line x1="845" y1="604.5" x2="845" y2="616" stroke="#808080" stroke-width="1.8"/>
<text x="846.8" y="612.9" font-family="Liberation Sans, Arial, sans-serif" font-size="8.4" fill="#333">14</text>
<line x1="918" y1="604.5" x2="918" y2="616" stroke="#808080" stroke-width="1.8"/>
<text x="919.8" y="612.9" font-family="Liberation Sans, Arial, sans-serif" font-size="8.4" fill="#333">21</text>
<line x1="960" y1="604.5" x2="960" y2="616" stroke="#808080" stroke-width="1.8"/>
<text x="961.8" y="612.9" font-family="Liberation Sans, Arial, sans-serif" font-size="8.4" fill="#333">28</text>
<line x1="1013" y1="604.5" x2="1013" y2="616" stroke="#808080" stroke-width="1.8"/>
<text x="1014.8" y="612.9" font-family="Liberation Sans, Arial, sans-serif" font-size="8.4" fill="#333">4</text>
<line x1="1071" y1="604.5" x2="1071" y2="616" stroke="#808080" stroke-width="1.8"/>
<text x="1072.8" y="612.9" font-family="Liberation Sans, Arial, sans-serif" font-size="8.4" fill="#333">11</text>
<clipPath id="mc"><rect x="0" y="600" width="1315" height="20"/></clipPath><g clip-path="url(#mc)">
<line x1="109.5" y1="604.5" x2="109.5" y2="619.5" stroke="#333" stroke-width="1.3"/>
<text x="111.5" y="624.6" font-family="Liberation Sans, Arial, sans-serif" font-size="8.4" fill="#333">October</text>
<line x1="409.5" y1="604.5" x2="409.5" y2="619.5" stroke="#333" stroke-width="1.3"/>
<text x="411.5" y="624.6" font-family="Liberation Sans, Arial, sans-serif" font-size="8.4" fill="#333">November</text>
<line x1="714.5" y1="604.5" x2="714.5" y2="619.5" stroke="#333" stroke-width="1.3"/>
<text x="716.5" y="624.6" font-family="Liberation Sans, Arial, sans-serif" font-size="8.4" fill="#333">December</text>
<line x1="1013.5" y1="604.5" x2="1013.5" y2="619.5" stroke="#333" stroke-width="1.3"/>
<text x="1015.5" y="624.6" font-family="Liberation Sans, Arial, sans-serif" font-size="8.4" fill="#333">2021</text>
</g>
<rect x="1197" y="605" width="44" height="10.5" fill="#8e8e8e"/>
<line x1="1199.5" y1="605" x2="1199.5" y2="615.5" stroke="#f4f4f4" stroke-width="1"/>
<line x1="1202.5" y1="605" x2="1202.5" y2="615.5" stroke="#f4f4f4" stroke-width="1"/>
<line x1="1211.5" y1="605" x2="1211.5" y2="615.5" stroke="#f4f4f4" stroke-width="1"/>
<line x1="1213.5" y1="605" x2="1213.5" y2="615.5" stroke="#f4f4f4" stroke-width="1"/>
<line x1="1224.5" y1="605" x2="1224.5" y2="615.5" stroke="#f4f4f4" stroke-width="1"/>
<line x1="1227.5" y1="605" x2="1227.5" y2="615.5" stroke="#f4f4f4" stroke-width="1"/>
<line x1="1233.5" y1="605" x2="1233.5" y2="615.5" stroke="#f4f4f4" stroke-width="1"/>
<line x1="1236.5" y1="605" x2="1236.5" y2="615.5" stroke="#f4f4f4" stroke-width="1"/>
<text x="1200.7" y="613" font-family="Liberation Sans, Arial, sans-serif" font-size="8.4" fill="#111" textLength="9" lengthAdjust="spacingAndGlyphs">17</text>
<text x="1215.7" y="613" font-family="Liberation Sans, Arial, sans-serif" font-size="8.4" fill="#111" textLength="9" lengthAdjust="spacingAndGlyphs">17</text>
<text x="1230.7" y="613" font-family="Liberation Sans, Arial, sans-serif" font-size="8.4" fill="#111" textLength="9" lengthAdjust="spacingAndGlyphs">17</text>
<g transform="translate(518.5,231) skewX(-7) translate(-518.5,-231)"><text x="518.5" y="231" font-family="Liberation Sans, sans-serif" font-style="italic" fill="#1212d4" font-size="21.6" textLength="171.6" lengthAdjust="spacingAndGlyphs" stroke="#fff" stroke-width="0.3" >MYTIL 60MIN</text></g>
<g transform="translate(518.5,259.5) skewX(-7) translate(-518.5,-259.5)"><text x="518.5" y="259.5" font-family="Liberation Sans, sans-serif" font-style="italic" fill="#1212d4" font-size="21.6" textLength="201" lengthAdjust="spacingAndGlyphs" stroke="#fff" stroke-width="0.3" >LONG STOP 1211</text></g>
<g transform="translate(150.4,396.9) skewX(-7) translate(-150.4,-396.9)"><text x="150.4" y="396.9" font-family="Liberation Sans, sans-serif" font-style="italic" fill="#1212d4" font-size="25.4" textLength="54.7" lengthAdjust="spacingAndGlyphs" stroke="#fff" stroke-width="0.3" >1003</text></g>
<g transform="translate(380.4,499.3) skewX(-7) translate(-380.4,-499.3)"><text x="380.4" y="499.3" font-family="Liberation Sans, sans-serif" font-style="italic" fill="#1212d4" font-size="26.5" textLength="47.6" lengthAdjust="spacingAndGlyphs" stroke="#fff" stroke-width="0.3" >890</text></g>
<g transform="translate(598.6,452.6) skewX(-7) translate(-598.6,-452.6)"><text x="598.6" y="452.6" font-family="Liberation Sans, sans-serif" font-style="italic" fill="#1212d4" font-size="25" textLength="45.9" lengthAdjust="spacingAndGlyphs" stroke="#fff" stroke-width="0.3" >965</text></g>
<g transform="translate(1041.2,203.6) skewX(-7) translate(-1041.2,-203.6)"><text x="1041.2" y="203.6" font-family="Liberation Sans, sans-serif" font-style="italic" fill="#1212d4" font-size="25.5" textLength="58.1" lengthAdjust="spacingAndGlyphs" stroke="#fff" stroke-width="0.3" >1306</text></g>
<g transform="translate(1155.8,228) skewX(-7) translate(-1155.8,-228)"><text x="1155.8" y="228" font-family="Liberation Sans, sans-serif" font-style="italic" fill="#1212d4" font-size="25.5" textLength="54.9" lengthAdjust="spacingAndGlyphs" stroke="#fff" stroke-width="0.3" >1265</text></g>
<g transform="translate(1148.1,270.8) skewX(-7) translate(-1148.1,-270.8)"><text x="1148.1" y="270.8" font-family="Liberation Sans, sans-serif" font-style="italic" fill="#1212d4" font-size="25.5" textLength="52" lengthAdjust="spacingAndGlyphs" stroke="#fff" stroke-width="0.3" >1211</text></g>
<g transform="translate(1155.8,324.2) skewX(-7) translate(-1155.8,-324.2)"><text x="1155.8" y="324.2" font-family="Liberation Sans, sans-serif" font-style="italic" fill="#1212d4" font-size="25.5" textLength="53.4" lengthAdjust="spacingAndGlyphs" stroke="#fff" stroke-width="0.3" >1185</text></g>
<g transform="translate(1129.8,353.2) skewX(-7) translate(-1129.8,-353.2)"><text x="1129.8" y="353.2" font-family="Liberation Sans, sans-serif" font-style="italic" fill="#1212d4" font-size="25.5" textLength="48.9" lengthAdjust="spacingAndGlyphs" stroke="#fff" stroke-width="0.3" >1156</text></g>
<g transform="translate(675.2,517.3) skewX(-7) translate(-675.2,-517.3)"><text x="675.2" y="517.3" font-family="Liberation Sans, sans-serif" font-style="italic" fill="#1212d4" font-size="21" textLength="179.3" lengthAdjust="spacingAndGlyphs" stroke="#fff" stroke-width="0.3" >www.fastfinance.gr</text></g>
<text x="848.6" y="428.6" font-family="Liberation Sans, sans-serif" font-style="italic" fill="#1212d4" font-size="10" textLength="65" lengthAdjust="spacingAndGlyphs" stroke="#2a2ad4" stroke-width="0.35">BLUE=LONG</text>
<text x="848.6" y="441.2" font-family="Liberation Sans, sans-serif" font-style="italic" fill="#1212d4" font-size="10" textLength="64.3" lengthAdjust="spacingAndGlyphs" stroke="#2a2ad4" stroke-width="0.35">RED=SHORT</text>
</svg>
</body></html>
